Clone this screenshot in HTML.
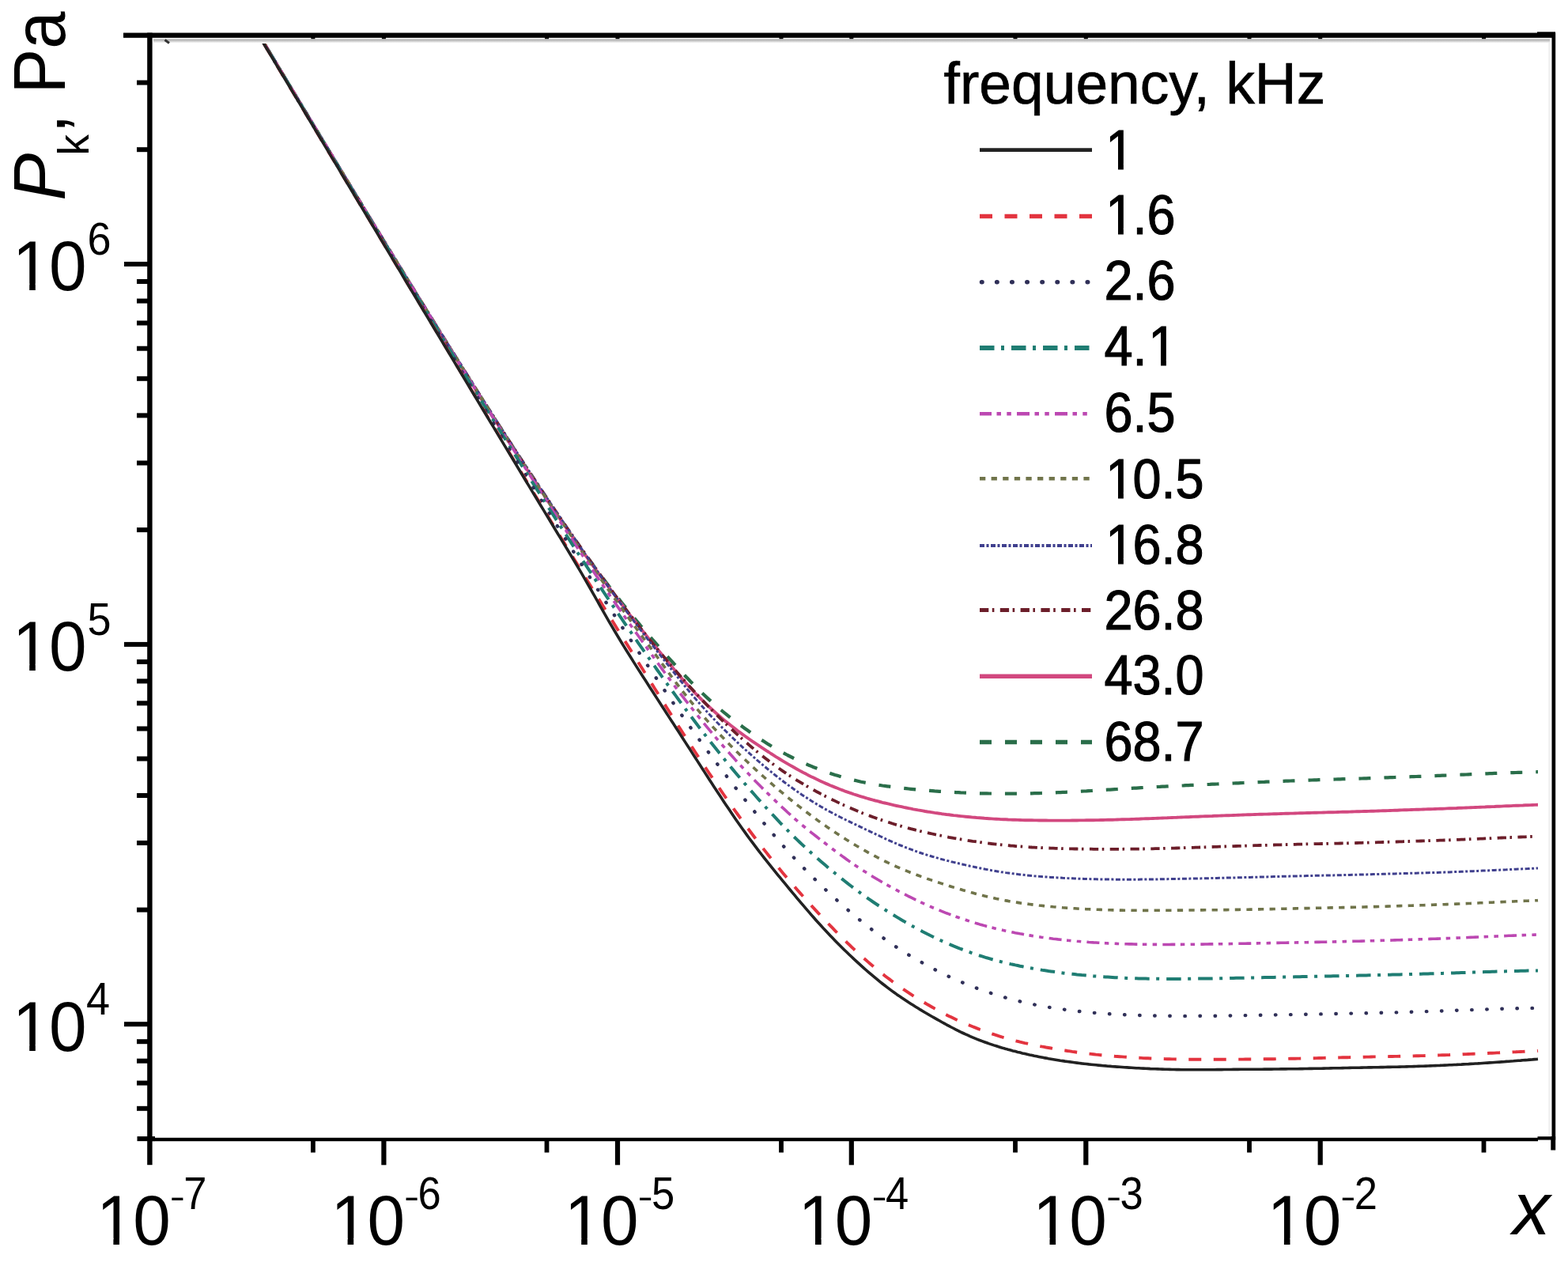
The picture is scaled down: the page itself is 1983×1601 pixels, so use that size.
<!DOCTYPE html><html><head><meta charset="utf-8"><title>P_k versus x for several frequencies</title><style>html,body{margin:0;padding:0;background:#fff;overflow:hidden}svg{display:block}</style></head><body>
<svg width="1983" height="1601" viewBox="0 0 1983 1601" style="font-family:'Liberation Sans',Arial,Helvetica,sans-serif">
<rect width="1983" height="1601" fill="#fff"/>
<defs><clipPath id="pc"><rect x="192.5" y="55" width="1768" height="1383"/></clipPath></defs>
<g clip-path="url(#pc)" fill="none" stroke-linejoin="round">
<polyline points="318.0,28.4 321.0,33.4 324.0,38.3 327.0,43.3 330.0,48.3 333.0,53.3 336.0,58.3 339.0,63.3 342.0,68.3 345.0,73.3 348.0,78.3 351.0,83.3 354.0,88.3 357.0,93.2 360.0,98.2 363.0,103.2 366.0,108.2 369.0,113.2 372.0,118.2 375.0,123.2 378.0,128.1 381.0,133.1 384.0,138.1 387.0,143.1 390.0,148.0 393.0,153.0 396.0,158.0 399.0,163.0 402.0,167.9 405.0,172.9 408.0,177.9 411.0,182.8 414.0,187.8 417.0,192.8 420.0,197.7 423.0,202.7 426.0,207.7 429.0,212.6 432.0,217.6 435.0,222.5 438.0,227.5 441.0,232.4 444.0,237.4 447.0,242.3 450.0,247.3 453.0,252.2 456.0,257.2 459.0,262.1 462.0,267.1 465.0,272.0 468.0,276.9 471.0,281.9 474.0,286.8 477.0,291.7 480.0,296.6 483.0,301.6 486.0,306.5 489.0,311.4 492.0,316.3 495.0,321.2 498.0,326.1 501.0,331.0 504.0,335.9 507.0,340.8 510.0,345.7 513.0,350.6 516.0,355.5 519.0,360.4 522.0,365.3 525.0,370.2 528.0,375.0 531.0,379.9 534.0,384.8 537.0,389.6 540.0,394.5 543.0,399.4 546.0,404.2 549.0,409.1 552.0,413.9 555.0,418.7 558.0,423.6 561.0,428.4 564.0,433.2 567.0,438.0 570.0,442.8 573.0,447.7 576.0,452.5 579.0,457.2 582.0,462.0 585.0,466.8 588.0,471.6 591.0,476.4 594.0,481.1 597.0,485.9 600.0,490.6 603.0,495.4 606.0,500.1 609.0,504.8 612.0,509.6 615.0,514.3 618.0,519.0 621.0,523.7 624.0,528.4 627.0,533.1 630.0,537.7 633.0,542.4 636.0,547.0 639.0,551.7 642.0,556.3 645.0,561.0 648.0,565.6 651.0,570.2 654.0,574.8 657.0,579.4 660.0,583.9 663.0,588.5 666.0,593.0 669.0,597.6 672.0,602.1 675.0,606.6 678.0,611.1 681.0,615.6 684.0,620.1 687.0,624.6 690.0,629.0 693.0,633.4 696.0,637.9 699.0,642.3 702.0,646.6 705.0,651.0 708.0,655.4 711.0,659.7 714.0,664.0 717.0,668.3 720.0,672.6 723.0,676.8 726.0,681.1 729.0,685.3 732.0,689.5 735.0,693.7 738.0,697.9 741.0,702.0 744.0,706.2 747.0,710.3 750.0,714.4 753.0,718.5 756.0,722.5 759.0,726.6 762.0,730.6 765.0,734.6 768.0,738.5 771.0,742.5 774.0,746.4 777.0,750.2 780.0,754.1 783.0,757.9 786.0,761.7 789.0,765.5 792.0,769.2 795.0,772.9 798.0,776.6 801.0,780.2 804.0,783.8 807.0,787.4 810.0,791.0 813.0,794.5 816.0,798.0 819.0,801.5 822.0,805.0 825.0,808.5 828.0,811.9 831.0,815.4 834.0,818.8 837.0,822.2 840.0,825.6 843.0,829.0 846.0,832.3 849.0,835.7 852.0,839.0 855.0,842.3 858.0,845.6 861.0,848.8 864.0,852.0 867.0,855.2 870.0,858.3 873.0,861.5 876.0,864.5 879.0,867.6 882.0,870.6 885.0,873.5 888.0,876.4 891.0,879.3 894.0,882.1 897.0,884.9 900.0,887.6 903.0,890.3 906.0,892.9 909.0,895.5 912.0,898.0 915.0,900.5 918.0,902.9 921.0,905.3 924.0,907.7 927.0,910.0 930.0,912.3 933.0,914.6 936.0,916.8 939.0,919.0 942.0,921.2 945.0,923.3 948.0,925.5 951.0,927.6 954.0,929.7 957.0,931.7 960.0,933.7 963.0,935.7 966.0,937.6 969.0,939.5 972.0,941.4 975.0,943.2 978.0,945.0 981.0,946.8 984.0,948.5 987.0,950.2 990.0,951.8 993.0,953.4 996.0,955.0 999.0,956.5 1002.0,958.0 1005.0,959.5 1008.0,960.9 1011.0,962.3 1014.0,963.7 1017.0,965.1 1020.0,966.4 1023.0,967.7 1026.0,968.9 1029.0,970.2 1032.0,971.3 1035.0,972.5 1038.0,973.7 1041.0,974.8 1044.0,975.9 1047.0,976.9 1050.0,977.9 1053.0,978.9 1056.0,979.9 1059.0,980.8 1062.0,981.7 1065.0,982.6 1068.0,983.5 1071.0,984.3 1074.0,985.1 1077.0,985.9 1080.0,986.6 1083.0,987.3 1086.0,988.0 1089.0,988.7 1092.0,989.3 1095.0,989.9 1098.0,990.5 1101.0,991.0 1104.0,991.6 1107.0,992.1 1110.0,992.6 1113.0,993.0 1116.0,993.5 1119.0,993.9 1122.0,994.3 1125.0,994.7 1128.0,995.1 1131.0,995.5 1134.0,995.9 1137.0,996.2 1140.0,996.6 1143.0,996.9 1146.0,997.2 1149.0,997.5 1152.0,997.8 1155.0,998.1 1158.0,998.4 1161.0,998.7 1164.0,999.0 1167.0,999.2 1170.0,999.5 1173.0,999.7 1176.0,999.9 1179.0,1000.1 1182.0,1000.4 1185.0,1000.6 1188.0,1000.8 1191.0,1001.0 1194.0,1001.2 1197.0,1001.4 1200.0,1001.6 1203.0,1001.7 1206.0,1001.9 1209.0,1002.1 1212.0,1002.2 1215.0,1002.4 1218.0,1002.5 1221.0,1002.6 1224.0,1002.8 1227.0,1002.9 1230.0,1003.0 1233.0,1003.1 1236.0,1003.2 1239.0,1003.3 1242.0,1003.3 1245.0,1003.4 1248.0,1003.4 1251.0,1003.5 1254.0,1003.5 1257.0,1003.6 1260.0,1003.6 1263.0,1003.6 1266.0,1003.7 1269.0,1003.7 1272.0,1003.7 1275.0,1003.7 1278.0,1003.7 1281.0,1003.6 1284.0,1003.6 1287.0,1003.6 1290.0,1003.6 1293.0,1003.5 1296.0,1003.5 1299.0,1003.4 1302.0,1003.4 1305.0,1003.3 1308.0,1003.2 1311.0,1003.2 1314.0,1003.1 1317.0,1003.0 1320.0,1002.9 1323.0,1002.8 1326.0,1002.7 1329.0,1002.6 1332.0,1002.5 1335.0,1002.3 1338.0,1002.2 1341.0,1002.1 1344.0,1001.9 1347.0,1001.8 1350.0,1001.7 1353.0,1001.5 1356.0,1001.3 1359.0,1001.2 1362.0,1001.0 1365.0,1000.9 1368.0,1000.7 1371.0,1000.5 1374.0,1000.4 1377.0,1000.2 1380.0,1000.0 1383.0,999.8 1386.0,999.7 1389.0,999.5 1392.0,999.3 1395.0,999.1 1398.0,998.9 1401.0,998.7 1404.0,998.6 1407.0,998.4 1410.0,998.2 1413.0,998.0 1416.0,997.8 1419.0,997.6 1422.0,997.5 1425.0,997.3 1428.0,997.1 1431.0,996.9 1434.0,996.7 1437.0,996.6 1440.0,996.4 1443.0,996.2 1446.0,996.0 1449.0,995.9 1452.0,995.7 1455.0,995.5 1458.0,995.4 1461.0,995.2 1464.0,995.0 1467.0,994.9 1470.0,994.7 1473.0,994.6 1476.0,994.4 1479.0,994.2 1482.0,994.1 1485.0,993.9 1488.0,993.8 1491.0,993.6 1494.0,993.5 1497.0,993.4 1500.0,993.2 1503.0,993.1 1506.0,992.9 1509.0,992.8 1512.0,992.7 1515.0,992.5 1518.0,992.4 1521.0,992.3 1524.0,992.1 1527.0,992.0 1530.0,991.9 1533.0,991.7 1536.0,991.6 1539.0,991.5 1542.0,991.3 1545.0,991.2 1548.0,991.1 1551.0,990.9 1554.0,990.8 1557.0,990.7 1560.0,990.5 1563.0,990.4 1566.0,990.3 1569.0,990.1 1572.0,990.0 1575.0,989.9 1578.0,989.8 1581.0,989.6 1584.0,989.5 1587.0,989.4 1590.0,989.2 1593.0,989.1 1596.0,989.0 1599.0,988.9 1602.0,988.7 1605.0,988.6 1608.0,988.5 1611.0,988.3 1614.0,988.2 1617.0,988.1 1620.0,988.0 1623.0,987.9 1626.0,987.7 1629.0,987.6 1632.0,987.5 1635.0,987.4 1638.0,987.3 1641.0,987.1 1644.0,987.0 1647.0,986.9 1650.0,986.8 1653.0,986.7 1656.0,986.6 1659.0,986.5 1662.0,986.4 1665.0,986.3 1668.0,986.2 1671.0,986.1 1674.0,986.0 1677.0,985.9 1680.0,985.8 1683.0,985.7 1686.0,985.6 1689.0,985.5 1692.0,985.4 1695.0,985.3 1698.0,985.2 1701.0,985.2 1704.0,985.1 1707.0,985.0 1710.0,984.9 1713.0,984.8 1716.0,984.7 1719.0,984.6 1722.0,984.5 1725.0,984.4 1728.0,984.3 1731.0,984.2 1734.0,984.1 1737.0,984.0 1740.0,983.9 1743.0,983.8 1746.0,983.7 1749.0,983.6 1752.0,983.4 1755.0,983.3 1758.0,983.2 1761.0,983.1 1764.0,983.0 1767.0,982.9 1770.0,982.8 1773.0,982.7 1776.0,982.6 1779.0,982.5 1782.0,982.3 1785.0,982.2 1788.0,982.1 1791.0,982.0 1794.0,981.9 1797.0,981.8 1800.0,981.7 1803.0,981.5 1806.0,981.4 1809.0,981.3 1812.0,981.2 1815.0,981.1 1818.0,980.9 1821.0,980.8 1824.0,980.7 1827.0,980.6 1830.0,980.5 1833.0,980.3 1836.0,980.2 1839.0,980.1 1842.0,980.0 1845.0,979.8 1848.0,979.7 1851.0,979.6 1854.0,979.5 1857.0,979.3 1860.0,979.2 1863.0,979.1 1866.0,978.9 1869.0,978.8 1872.0,978.7 1875.0,978.6 1878.0,978.4 1881.0,978.3 1884.0,978.2 1887.0,978.1 1890.0,977.9 1893.0,977.8 1896.0,977.7 1899.0,977.6 1902.0,977.5 1905.0,977.4 1908.0,977.3 1911.0,977.2 1914.0,977.1 1917.0,977.0 1920.0,976.9 1923.0,976.8 1926.0,976.7 1929.0,976.6 1932.0,976.5 1935.0,976.5 1938.0,976.4 1941.0,976.3 1944.0,976.2 1945.0,976.2" stroke="#2a6e4a" stroke-width="4.2" stroke-dasharray="15 17"/>
<polyline points="318.0,28.2 321.0,33.2 324.0,38.2 327.0,43.2 330.0,48.2 333.0,53.2 336.0,58.2 339.0,63.2 342.0,68.1 345.0,73.1 348.0,78.1 351.0,83.1 354.0,88.1 357.0,93.1 360.0,98.1 363.0,103.0 366.0,108.0 369.0,113.0 372.0,118.0 375.0,123.0 378.0,127.9 381.0,132.9 384.0,137.9 387.0,142.9 390.0,147.8 393.0,152.8 396.0,157.8 399.0,162.8 402.0,167.7 405.0,172.7 408.0,177.7 411.0,182.6 414.0,187.6 417.0,192.6 420.0,197.5 423.0,202.5 426.0,207.4 429.0,212.4 432.0,217.3 435.0,222.3 438.0,227.2 441.0,232.2 444.0,237.1 447.0,242.1 450.0,247.0 453.0,252.0 456.0,256.9 459.0,261.8 462.0,266.8 465.0,271.7 468.0,276.6 471.0,281.6 474.0,286.5 477.0,291.4 480.0,296.4 483.0,301.3 486.0,306.2 489.0,311.1 492.0,316.0 495.0,320.9 498.0,325.8 501.0,330.7 504.0,335.6 507.0,340.5 510.0,345.4 513.0,350.3 516.0,355.2 519.0,360.1 522.0,365.0 525.0,369.8 528.0,374.7 531.0,379.6 534.0,384.5 537.0,389.3 540.0,394.2 543.0,399.0 546.0,403.9 549.0,408.7 552.0,413.6 555.0,418.4 558.0,423.2 561.0,428.1 564.0,432.9 567.0,437.7 570.0,442.5 573.0,447.3 576.0,452.1 579.0,456.9 582.0,461.7 585.0,466.5 588.0,471.3 591.0,476.1 594.0,480.8 597.0,485.6 600.0,490.3 603.0,495.1 606.0,499.8 609.0,504.6 612.0,509.3 615.0,514.0 618.0,518.7 621.0,523.4 624.0,528.1 627.0,532.8 630.0,537.5 633.0,542.2 636.0,546.8 639.0,551.5 642.0,556.1 645.0,560.8 648.0,565.4 651.0,570.0 654.0,574.6 657.0,579.2 660.0,583.8 663.0,588.4 666.0,593.0 669.0,597.5 672.0,602.1 675.0,606.6 678.0,611.1 681.0,615.6 684.0,620.1 687.0,624.6 690.0,629.1 693.0,633.6 696.0,638.0 699.0,642.5 702.0,646.9 705.0,651.3 708.0,655.7 711.0,660.1 714.0,664.4 717.0,668.8 720.0,673.1 723.0,677.4 726.0,681.7 729.0,686.0 732.0,690.3 735.0,694.6 738.0,698.8 741.0,703.0 744.0,707.2 747.0,711.4 750.0,715.6 753.0,719.7 756.0,723.8 759.0,727.9 762.0,732.0 765.0,736.1 768.0,740.1 771.0,744.2 774.0,748.2 777.0,752.2 780.0,756.1 783.0,760.1 786.0,764.0 789.0,767.9 792.0,771.8 795.0,775.6 798.0,779.5 801.0,783.3 804.0,787.0 807.0,790.8 810.0,794.6 813.0,798.3 816.0,802.0 819.0,805.7 822.0,809.4 825.0,813.0 828.0,816.7 831.0,820.4 834.0,824.0 837.0,827.7 840.0,831.3 843.0,835.0 846.0,838.6 849.0,842.3 852.0,845.9 855.0,849.4 858.0,853.0 861.0,856.5 864.0,859.9 867.0,863.3 870.0,866.6 873.0,869.9 876.0,873.1 879.0,876.3 882.0,879.3 885.0,882.4 888.0,885.4 891.0,888.3 894.0,891.2 897.0,894.0 900.0,896.8 903.0,899.5 906.0,902.2 909.0,904.8 912.0,907.4 915.0,909.9 918.0,912.4 921.0,914.8 924.0,917.2 927.0,919.6 930.0,921.9 933.0,924.2 936.0,926.4 939.0,928.6 942.0,930.8 945.0,932.9 948.0,935.0 951.0,937.1 954.0,939.1 957.0,941.2 960.0,943.2 963.0,945.2 966.0,947.1 969.0,949.1 972.0,951.0 975.0,953.0 978.0,954.9 981.0,956.8 984.0,958.6 987.0,960.5 990.0,962.3 993.0,964.1 996.0,965.9 999.0,967.6 1002.0,969.3 1005.0,971.0 1008.0,972.7 1011.0,974.4 1014.0,976.0 1017.0,977.6 1020.0,979.1 1023.0,980.7 1026.0,982.2 1029.0,983.6 1032.0,985.1 1035.0,986.5 1038.0,987.9 1041.0,989.3 1044.0,990.6 1047.0,991.9 1050.0,993.2 1053.0,994.4 1056.0,995.6 1059.0,996.8 1062.0,998.0 1065.0,999.1 1068.0,1000.3 1071.0,1001.3 1074.0,1002.4 1077.0,1003.4 1080.0,1004.5 1083.0,1005.4 1086.0,1006.4 1089.0,1007.3 1092.0,1008.2 1095.0,1009.1 1098.0,1010.0 1101.0,1010.8 1104.0,1011.7 1107.0,1012.5 1110.0,1013.2 1113.0,1014.0 1116.0,1014.8 1119.0,1015.5 1122.0,1016.2 1125.0,1016.9 1128.0,1017.6 1131.0,1018.3 1134.0,1019.0 1137.0,1019.6 1140.0,1020.2 1143.0,1020.9 1146.0,1021.5 1149.0,1022.1 1152.0,1022.7 1155.0,1023.3 1158.0,1023.8 1161.0,1024.4 1164.0,1024.9 1167.0,1025.4 1170.0,1026.0 1173.0,1026.5 1176.0,1026.9 1179.0,1027.4 1182.0,1027.9 1185.0,1028.3 1188.0,1028.7 1191.0,1029.2 1194.0,1029.6 1197.0,1030.0 1200.0,1030.3 1203.0,1030.7 1206.0,1031.1 1209.0,1031.4 1212.0,1031.8 1215.0,1032.1 1218.0,1032.4 1221.0,1032.7 1224.0,1033.0 1227.0,1033.3 1230.0,1033.6 1233.0,1033.8 1236.0,1034.1 1239.0,1034.3 1242.0,1034.5 1245.0,1034.8 1248.0,1035.0 1251.0,1035.2 1254.0,1035.4 1257.0,1035.6 1260.0,1035.7 1263.0,1035.9 1266.0,1036.1 1269.0,1036.2 1272.0,1036.3 1275.0,1036.5 1278.0,1036.6 1281.0,1036.7 1284.0,1036.8 1287.0,1036.9 1290.0,1037.0 1293.0,1037.1 1296.0,1037.2 1299.0,1037.2 1302.0,1037.3 1305.0,1037.3 1308.0,1037.4 1311.0,1037.4 1314.0,1037.5 1317.0,1037.5 1320.0,1037.5 1323.0,1037.5 1326.0,1037.6 1329.0,1037.6 1332.0,1037.6 1335.0,1037.6 1338.0,1037.6 1341.0,1037.6 1344.0,1037.6 1347.0,1037.6 1350.0,1037.6 1353.0,1037.6 1356.0,1037.5 1359.0,1037.5 1362.0,1037.5 1365.0,1037.4 1368.0,1037.4 1371.0,1037.4 1374.0,1037.3 1377.0,1037.3 1380.0,1037.2 1383.0,1037.2 1386.0,1037.1 1389.0,1037.1 1392.0,1037.0 1395.0,1037.0 1398.0,1036.9 1401.0,1036.8 1404.0,1036.7 1407.0,1036.7 1410.0,1036.6 1413.0,1036.5 1416.0,1036.4 1419.0,1036.3 1422.0,1036.2 1425.0,1036.1 1428.0,1036.1 1431.0,1036.0 1434.0,1035.9 1437.0,1035.8 1440.0,1035.7 1443.0,1035.5 1446.0,1035.4 1449.0,1035.3 1452.0,1035.2 1455.0,1035.1 1458.0,1035.0 1461.0,1034.9 1464.0,1034.7 1467.0,1034.6 1470.0,1034.5 1473.0,1034.4 1476.0,1034.3 1479.0,1034.1 1482.0,1034.0 1485.0,1033.9 1488.0,1033.8 1491.0,1033.6 1494.0,1033.5 1497.0,1033.4 1500.0,1033.3 1503.0,1033.2 1506.0,1033.0 1509.0,1032.9 1512.0,1032.8 1515.0,1032.7 1518.0,1032.5 1521.0,1032.4 1524.0,1032.3 1527.0,1032.2 1530.0,1032.1 1533.0,1032.0 1536.0,1031.8 1539.0,1031.7 1542.0,1031.6 1545.0,1031.5 1548.0,1031.4 1551.0,1031.3 1554.0,1031.2 1557.0,1031.1 1560.0,1031.0 1563.0,1030.9 1566.0,1030.7 1569.0,1030.6 1572.0,1030.5 1575.0,1030.4 1578.0,1030.3 1581.0,1030.2 1584.0,1030.1 1587.0,1030.0 1590.0,1029.9 1593.0,1029.8 1596.0,1029.7 1599.0,1029.6 1602.0,1029.6 1605.0,1029.5 1608.0,1029.4 1611.0,1029.3 1614.0,1029.2 1617.0,1029.1 1620.0,1029.0 1623.0,1028.9 1626.0,1028.8 1629.0,1028.7 1632.0,1028.6 1635.0,1028.6 1638.0,1028.5 1641.0,1028.4 1644.0,1028.3 1647.0,1028.2 1650.0,1028.1 1653.0,1028.0 1656.0,1028.0 1659.0,1027.9 1662.0,1027.8 1665.0,1027.7 1668.0,1027.6 1671.0,1027.6 1674.0,1027.5 1677.0,1027.4 1680.0,1027.3 1683.0,1027.3 1686.0,1027.2 1689.0,1027.1 1692.0,1027.0 1695.0,1026.9 1698.0,1026.8 1701.0,1026.8 1704.0,1026.7 1707.0,1026.6 1710.0,1026.5 1713.0,1026.4 1716.0,1026.3 1719.0,1026.2 1722.0,1026.1 1725.0,1026.0 1728.0,1026.0 1731.0,1025.9 1734.0,1025.8 1737.0,1025.7 1740.0,1025.6 1743.0,1025.5 1746.0,1025.4 1749.0,1025.3 1752.0,1025.2 1755.0,1025.1 1758.0,1025.0 1761.0,1024.9 1764.0,1024.8 1767.0,1024.7 1770.0,1024.5 1773.0,1024.4 1776.0,1024.3 1779.0,1024.2 1782.0,1024.1 1785.0,1024.0 1788.0,1023.9 1791.0,1023.8 1794.0,1023.7 1797.0,1023.6 1800.0,1023.5 1803.0,1023.4 1806.0,1023.3 1809.0,1023.2 1812.0,1023.1 1815.0,1023.0 1818.0,1022.9 1821.0,1022.8 1824.0,1022.7 1827.0,1022.6 1830.0,1022.4 1833.0,1022.3 1836.0,1022.2 1839.0,1022.1 1842.0,1022.0 1845.0,1021.8 1848.0,1021.7 1851.0,1021.6 1854.0,1021.5 1857.0,1021.4 1860.0,1021.2 1863.0,1021.1 1866.0,1021.0 1869.0,1020.9 1872.0,1020.7 1875.0,1020.6 1878.0,1020.5 1881.0,1020.3 1884.0,1020.2 1887.0,1020.1 1890.0,1020.0 1893.0,1019.8 1896.0,1019.7 1899.0,1019.6 1902.0,1019.4 1905.0,1019.3 1908.0,1019.2 1911.0,1019.1 1914.0,1018.9 1917.0,1018.8 1920.0,1018.7 1923.0,1018.6 1926.0,1018.5 1929.0,1018.3 1932.0,1018.2 1935.0,1018.1 1938.0,1018.0 1941.0,1017.9 1944.0,1017.7 1945.0,1017.7" stroke="#d2487f" stroke-width="3.9"/>
<polyline points="318.0,27.9 321.0,32.8 324.0,37.8 327.0,42.8 330.0,47.8 333.0,52.8 336.0,57.8 339.0,62.7 342.0,67.7 345.0,72.7 348.0,77.7 351.0,82.7 354.0,87.6 357.0,92.6 360.0,97.6 363.0,102.6 366.0,107.5 369.0,112.5 372.0,117.5 375.0,122.4 378.0,127.4 381.0,132.4 384.0,137.4 387.0,142.3 390.0,147.3 393.0,152.2 396.0,157.2 399.0,162.2 402.0,167.1 405.0,172.1 408.0,177.0 411.0,182.0 414.0,186.9 417.0,191.9 420.0,196.8 423.0,201.8 426.0,206.7 429.0,211.7 432.0,216.6 435.0,221.6 438.0,226.5 441.0,231.4 444.0,236.4 447.0,241.3 450.0,246.2 453.0,251.2 456.0,256.1 459.0,261.0 462.0,265.9 465.0,270.9 468.0,275.8 471.0,280.7 474.0,285.6 477.0,290.5 480.0,295.4 483.0,300.3 486.0,305.2 489.0,310.1 492.0,315.0 495.0,319.9 498.0,324.8 501.0,329.7 504.0,334.6 507.0,339.5 510.0,344.4 513.0,349.2 516.0,354.1 519.0,359.0 522.0,363.8 525.0,368.7 528.0,373.6 531.0,378.4 534.0,383.3 537.0,388.1 540.0,393.0 543.0,397.8 546.0,402.6 549.0,407.5 552.0,412.3 555.0,417.1 558.0,421.9 561.0,426.7 564.0,431.5 567.0,436.4 570.0,441.1 573.0,445.9 576.0,450.7 579.0,455.5 582.0,460.3 585.0,465.1 588.0,469.8 591.0,474.6 594.0,479.3 597.0,484.1 600.0,488.8 603.0,493.6 606.0,498.3 609.0,503.0 612.0,507.7 615.0,512.4 618.0,517.1 621.0,521.8 624.0,526.5 627.0,531.2 630.0,535.9 633.0,540.5 636.0,545.2 639.0,549.8 642.0,554.5 645.0,559.1 648.0,563.7 651.0,568.3 654.0,572.9 657.0,577.5 660.0,582.1 663.0,586.7 666.0,591.3 669.0,595.8 672.0,600.4 675.0,604.9 678.0,609.4 681.0,613.9 684.0,618.4 687.0,622.9 690.0,627.4 693.0,631.9 696.0,636.3 699.0,640.8 702.0,645.2 705.0,649.6 708.0,654.0 711.0,658.4 714.0,662.8 717.0,667.2 720.0,671.5 723.0,675.9 726.0,680.2 729.0,684.5 732.0,688.8 735.0,693.1 738.0,697.3 741.0,701.6 744.0,705.8 747.0,710.0 750.0,714.2 753.0,718.4 756.0,722.6 759.0,726.7 762.0,730.9 765.0,735.0 768.0,739.1 771.0,743.2 774.0,747.2 777.0,751.3 780.0,755.3 783.0,759.3 786.0,763.3 789.0,767.2 792.0,771.2 795.0,775.1 798.0,779.0 801.0,782.9 804.0,786.7 807.0,790.6 810.0,794.4 813.0,798.2 816.0,802.0 819.0,805.7 822.0,809.4 825.0,813.1 828.0,816.8 831.0,820.5 834.0,824.1 837.0,827.7 840.0,831.3 843.0,834.8 846.0,838.4 849.0,841.9 852.0,845.4 855.0,848.8 858.0,852.3 861.0,855.7 864.0,859.0 867.0,862.4 870.0,865.7 873.0,869.1 876.0,872.3 879.0,875.6 882.0,878.8 885.0,882.0 888.0,885.2 891.0,888.4 894.0,891.5 897.0,894.6 900.0,897.6 903.0,900.7 906.0,903.7 909.0,906.7 912.0,909.6 915.0,912.5 918.0,915.4 921.0,918.3 924.0,921.1 927.0,923.9 930.0,926.7 933.0,929.4 936.0,932.1 939.0,934.8 942.0,937.4 945.0,940.0 948.0,942.6 951.0,945.2 954.0,947.7 957.0,950.2 960.0,952.6 963.0,955.0 966.0,957.4 969.0,959.7 972.0,962.1 975.0,964.3 978.0,966.6 981.0,968.8 984.0,970.9 987.0,973.0 990.0,975.1 993.0,977.1 996.0,979.2 999.0,981.1 1002.0,983.1 1005.0,985.0 1008.0,986.8 1011.0,988.6 1014.0,990.4 1017.0,992.2 1020.0,994.0 1023.0,995.7 1026.0,997.4 1029.0,999.0 1032.0,1000.7 1035.0,1002.3 1038.0,1003.9 1041.0,1005.4 1044.0,1007.0 1047.0,1008.5 1050.0,1010.0 1053.0,1011.5 1056.0,1012.9 1059.0,1014.4 1062.0,1015.8 1065.0,1017.2 1068.0,1018.6 1071.0,1019.9 1074.0,1021.2 1077.0,1022.5 1080.0,1023.8 1083.0,1025.1 1086.0,1026.3 1089.0,1027.5 1092.0,1028.7 1095.0,1029.9 1098.0,1031.0 1101.0,1032.1 1104.0,1033.2 1107.0,1034.3 1110.0,1035.4 1113.0,1036.4 1116.0,1037.4 1119.0,1038.4 1122.0,1039.4 1125.0,1040.3 1128.0,1041.3 1131.0,1042.2 1134.0,1043.1 1137.0,1044.0 1140.0,1044.8 1143.0,1045.7 1146.0,1046.5 1149.0,1047.3 1152.0,1048.1 1155.0,1048.8 1158.0,1049.6 1161.0,1050.3 1164.0,1051.1 1167.0,1051.8 1170.0,1052.5 1173.0,1053.2 1176.0,1053.8 1179.0,1054.5 1182.0,1055.2 1185.0,1055.8 1188.0,1056.4 1191.0,1057.0 1194.0,1057.6 1197.0,1058.2 1200.0,1058.8 1203.0,1059.3 1206.0,1059.9 1209.0,1060.4 1212.0,1060.9 1215.0,1061.4 1218.0,1061.9 1221.0,1062.4 1224.0,1062.9 1227.0,1063.3 1230.0,1063.8 1233.0,1064.2 1236.0,1064.6 1239.0,1065.1 1242.0,1065.5 1245.0,1065.9 1248.0,1066.2 1251.0,1066.6 1254.0,1067.0 1257.0,1067.3 1260.0,1067.7 1263.0,1068.0 1266.0,1068.3 1269.0,1068.6 1272.0,1068.9 1275.0,1069.2 1278.0,1069.5 1281.0,1069.7 1284.0,1070.0 1287.0,1070.2 1290.0,1070.4 1293.0,1070.7 1296.0,1070.9 1299.0,1071.1 1302.0,1071.3 1305.0,1071.5 1308.0,1071.6 1311.0,1071.8 1314.0,1072.0 1317.0,1072.1 1320.0,1072.3 1323.0,1072.4 1326.0,1072.5 1329.0,1072.6 1332.0,1072.7 1335.0,1072.8 1338.0,1072.9 1341.0,1073.0 1344.0,1073.1 1347.0,1073.2 1350.0,1073.3 1353.0,1073.3 1356.0,1073.4 1359.0,1073.5 1362.0,1073.5 1365.0,1073.6 1368.0,1073.6 1371.0,1073.6 1374.0,1073.7 1377.0,1073.7 1380.0,1073.7 1383.0,1073.8 1386.0,1073.8 1389.0,1073.8 1392.0,1073.8 1395.0,1073.8 1398.0,1073.8 1401.0,1073.8 1404.0,1073.8 1407.0,1073.8 1410.0,1073.8 1413.0,1073.8 1416.0,1073.8 1419.0,1073.8 1422.0,1073.7 1425.0,1073.7 1428.0,1073.7 1431.0,1073.7 1434.0,1073.6 1437.0,1073.6 1440.0,1073.6 1443.0,1073.5 1446.0,1073.5 1449.0,1073.4 1452.0,1073.4 1455.0,1073.3 1458.0,1073.3 1461.0,1073.2 1464.0,1073.1 1467.0,1073.1 1470.0,1073.0 1473.0,1072.9 1476.0,1072.8 1479.0,1072.8 1482.0,1072.7 1485.0,1072.6 1488.0,1072.5 1491.0,1072.4 1494.0,1072.3 1497.0,1072.2 1500.0,1072.1 1503.0,1072.0 1506.0,1071.9 1509.0,1071.8 1512.0,1071.7 1515.0,1071.6 1518.0,1071.5 1521.0,1071.4 1524.0,1071.3 1527.0,1071.2 1530.0,1071.1 1533.0,1071.0 1536.0,1070.9 1539.0,1070.8 1542.0,1070.7 1545.0,1070.6 1548.0,1070.5 1551.0,1070.4 1554.0,1070.3 1557.0,1070.2 1560.0,1070.1 1563.0,1070.0 1566.0,1069.9 1569.0,1069.8 1572.0,1069.7 1575.0,1069.6 1578.0,1069.5 1581.0,1069.4 1584.0,1069.3 1587.0,1069.2 1590.0,1069.1 1593.0,1069.0 1596.0,1068.9 1599.0,1068.9 1602.0,1068.8 1605.0,1068.7 1608.0,1068.6 1611.0,1068.5 1614.0,1068.4 1617.0,1068.4 1620.0,1068.3 1623.0,1068.2 1626.0,1068.1 1629.0,1068.0 1632.0,1068.0 1635.0,1067.9 1638.0,1067.8 1641.0,1067.7 1644.0,1067.7 1647.0,1067.6 1650.0,1067.5 1653.0,1067.4 1656.0,1067.4 1659.0,1067.3 1662.0,1067.2 1665.0,1067.2 1668.0,1067.1 1671.0,1067.0 1674.0,1067.0 1677.0,1066.9 1680.0,1066.8 1683.0,1066.8 1686.0,1066.7 1689.0,1066.6 1692.0,1066.6 1695.0,1066.5 1698.0,1066.4 1701.0,1066.4 1704.0,1066.3 1707.0,1066.2 1710.0,1066.1 1713.0,1066.1 1716.0,1066.0 1719.0,1065.9 1722.0,1065.8 1725.0,1065.7 1728.0,1065.6 1731.0,1065.6 1734.0,1065.5 1737.0,1065.4 1740.0,1065.3 1743.0,1065.2 1746.0,1065.1 1749.0,1065.0 1752.0,1064.9 1755.0,1064.8 1758.0,1064.7 1761.0,1064.6 1764.0,1064.6 1767.0,1064.5 1770.0,1064.4 1773.0,1064.3 1776.0,1064.2 1779.0,1064.1 1782.0,1064.0 1785.0,1063.9 1788.0,1063.8 1791.0,1063.7 1794.0,1063.6 1797.0,1063.5 1800.0,1063.4 1803.0,1063.3 1806.0,1063.2 1809.0,1063.1 1812.0,1063.0 1815.0,1062.9 1818.0,1062.8 1821.0,1062.7 1824.0,1062.6 1827.0,1062.5 1830.0,1062.4 1833.0,1062.3 1836.0,1062.2 1839.0,1062.0 1842.0,1061.9 1845.0,1061.8 1848.0,1061.7 1851.0,1061.6 1854.0,1061.4 1857.0,1061.3 1860.0,1061.2 1863.0,1061.1 1866.0,1060.9 1869.0,1060.8 1872.0,1060.7 1875.0,1060.6 1878.0,1060.4 1881.0,1060.3 1884.0,1060.2 1887.0,1060.0 1890.0,1059.9 1893.0,1059.8 1896.0,1059.6 1899.0,1059.5 1902.0,1059.4 1905.0,1059.3 1908.0,1059.1 1911.0,1059.0 1914.0,1058.9 1917.0,1058.7 1920.0,1058.6 1923.0,1058.5 1926.0,1058.4 1929.0,1058.3 1932.0,1058.1 1935.0,1058.0 1938.0,1057.9 1941.0,1057.8 1944.0,1057.6 1945.0,1057.6" stroke="#6c1e2a" stroke-width="3.8" stroke-dasharray="11.3 4.5 2.6 7.4"/>
<polyline points="318.0,27.6 321.0,32.6 324.0,37.6 327.0,42.5 330.0,47.5 333.0,52.5 336.0,57.5 339.0,62.4 342.0,67.4 345.0,72.4 348.0,77.4 351.0,82.3 354.0,87.3 357.0,92.3 360.0,97.3 363.0,102.2 366.0,107.2 369.0,112.2 372.0,117.1 375.0,122.1 378.0,127.1 381.0,132.0 384.0,137.0 387.0,141.9 390.0,146.9 393.0,151.9 396.0,156.8 399.0,161.8 402.0,166.7 405.0,171.7 408.0,176.6 411.0,181.6 414.0,186.5 417.0,191.5 420.0,196.4 423.0,201.4 426.0,206.3 429.0,211.2 432.0,216.2 435.0,221.1 438.0,226.0 441.0,231.0 444.0,235.9 447.0,240.8 450.0,245.8 453.0,250.7 456.0,255.6 459.0,260.5 462.0,265.4 465.0,270.4 468.0,275.3 471.0,280.2 474.0,285.1 477.0,290.0 480.0,294.9 483.0,299.8 486.0,304.7 489.0,309.6 492.0,314.5 495.0,319.4 498.0,324.3 501.0,329.1 504.0,334.0 507.0,338.9 510.0,343.8 513.0,348.7 516.0,353.5 519.0,358.4 522.0,363.2 525.0,368.1 528.0,373.0 531.0,377.8 534.0,382.7 537.0,387.5 540.0,392.3 543.0,397.2 546.0,402.0 549.0,406.8 552.0,411.7 555.0,416.5 558.0,421.3 561.0,426.1 564.0,430.9 567.0,435.7 570.0,440.5 573.0,445.3 576.0,450.1 579.0,454.9 582.0,459.6 585.0,464.4 588.0,469.2 591.0,473.9 594.0,478.7 597.0,483.4 600.0,488.2 603.0,492.9 606.0,497.7 609.0,502.4 612.0,507.1 615.0,511.8 618.0,516.5 621.0,521.2 624.0,525.9 627.0,530.6 630.0,535.3 633.0,540.0 636.0,544.6 639.0,549.3 642.0,553.9 645.0,558.6 648.0,563.2 651.0,567.8 654.0,572.4 657.0,577.1 660.0,581.7 663.0,586.2 666.0,590.8 669.0,595.4 672.0,600.0 675.0,604.5 678.0,609.1 681.0,613.6 684.0,618.1 687.0,622.6 690.0,627.1 693.0,631.6 696.0,636.1 699.0,640.6 702.0,645.1 705.0,649.5 708.0,653.9 711.0,658.4 714.0,662.8 717.0,667.2 720.0,671.6 723.0,676.0 726.0,680.3 729.0,684.7 732.0,689.0 735.0,693.3 738.0,697.7 741.0,702.0 744.0,706.2 747.0,710.5 750.0,714.8 753.0,719.0 756.0,723.2 759.0,727.4 762.0,731.6 765.0,735.8 768.0,740.0 771.0,744.1 774.0,748.3 777.0,752.4 780.0,756.5 783.0,760.6 786.0,764.6 789.0,768.7 792.0,772.7 795.0,776.7 798.0,780.7 801.0,784.7 804.0,788.6 807.0,792.6 810.0,796.5 813.0,800.4 816.0,804.3 819.0,808.1 822.0,812.0 825.0,815.8 828.0,819.6 831.0,823.5 834.0,827.3 837.0,831.1 840.0,834.9 843.0,838.7 846.0,842.4 849.0,846.2 852.0,850.0 855.0,853.8 858.0,857.6 861.0,861.3 864.0,865.0 867.0,868.7 870.0,872.4 873.0,876.0 876.0,879.5 879.0,883.1 882.0,886.5 885.0,889.9 888.0,893.3 891.0,896.6 894.0,899.9 897.0,903.2 900.0,906.4 903.0,909.5 906.0,912.7 909.0,915.7 912.0,918.8 915.0,921.8 918.0,924.8 921.0,927.7 924.0,930.6 927.0,933.5 930.0,936.4 933.0,939.2 936.0,942.0 939.0,944.8 942.0,947.5 945.0,950.2 948.0,952.9 951.0,955.6 954.0,958.2 957.0,960.9 960.0,963.4 963.0,966.0 966.0,968.5 969.0,971.0 972.0,973.5 975.0,975.9 978.0,978.4 981.0,980.7 984.0,983.1 987.0,985.4 990.0,987.7 993.0,990.0 996.0,992.2 999.0,994.4 1002.0,996.5 1005.0,998.7 1008.0,1000.8 1011.0,1002.8 1014.0,1004.9 1017.0,1006.9 1020.0,1008.8 1023.0,1010.8 1026.0,1012.7 1029.0,1014.6 1032.0,1016.4 1035.0,1018.2 1038.0,1020.0 1041.0,1021.7 1044.0,1023.4 1047.0,1025.1 1050.0,1026.7 1053.0,1028.3 1056.0,1029.9 1059.0,1031.5 1062.0,1033.0 1065.0,1034.5 1068.0,1036.0 1071.0,1037.5 1074.0,1038.9 1077.0,1040.4 1080.0,1041.8 1083.0,1043.2 1086.0,1044.7 1089.0,1046.1 1092.0,1047.5 1095.0,1049.0 1098.0,1050.4 1101.0,1051.8 1104.0,1053.3 1107.0,1054.7 1110.0,1056.1 1113.0,1057.5 1116.0,1058.9 1119.0,1060.3 1122.0,1061.7 1125.0,1063.1 1128.0,1064.4 1131.0,1065.7 1134.0,1067.0 1137.0,1068.3 1140.0,1069.5 1143.0,1070.7 1146.0,1071.9 1149.0,1073.1 1152.0,1074.2 1155.0,1075.3 1158.0,1076.4 1161.0,1077.5 1164.0,1078.5 1167.0,1079.5 1170.0,1080.5 1173.0,1081.4 1176.0,1082.3 1179.0,1083.2 1182.0,1084.1 1185.0,1084.9 1188.0,1085.8 1191.0,1086.6 1194.0,1087.4 1197.0,1088.1 1200.0,1088.9 1203.0,1089.7 1206.0,1090.4 1209.0,1091.1 1212.0,1091.8 1215.0,1092.5 1218.0,1093.2 1221.0,1093.9 1224.0,1094.6 1227.0,1095.3 1230.0,1095.9 1233.0,1096.5 1236.0,1097.2 1239.0,1097.8 1242.0,1098.4 1245.0,1099.0 1248.0,1099.6 1251.0,1100.1 1254.0,1100.7 1257.0,1101.2 1260.0,1101.7 1263.0,1102.2 1266.0,1102.7 1269.0,1103.1 1272.0,1103.6 1275.0,1104.0 1278.0,1104.4 1281.0,1104.8 1284.0,1105.2 1287.0,1105.6 1290.0,1105.9 1293.0,1106.3 1296.0,1106.6 1299.0,1106.9 1302.0,1107.2 1305.0,1107.5 1308.0,1107.8 1311.0,1108.0 1314.0,1108.3 1317.0,1108.5 1320.0,1108.7 1323.0,1109.0 1326.0,1109.2 1329.0,1109.4 1332.0,1109.6 1335.0,1109.8 1338.0,1109.9 1341.0,1110.1 1344.0,1110.3 1347.0,1110.4 1350.0,1110.6 1353.0,1110.7 1356.0,1110.8 1359.0,1111.0 1362.0,1111.1 1365.0,1111.2 1368.0,1111.3 1371.0,1111.4 1374.0,1111.5 1377.0,1111.6 1380.0,1111.7 1383.0,1111.8 1386.0,1111.8 1389.0,1111.9 1392.0,1111.9 1395.0,1112.0 1398.0,1112.0 1401.0,1112.1 1404.0,1112.1 1407.0,1112.1 1410.0,1112.2 1413.0,1112.2 1416.0,1112.2 1419.0,1112.2 1422.0,1112.2 1425.0,1112.2 1428.0,1112.2 1431.0,1112.2 1434.0,1112.2 1437.0,1112.2 1440.0,1112.2 1443.0,1112.1 1446.0,1112.1 1449.0,1112.1 1452.0,1112.0 1455.0,1112.0 1458.0,1112.0 1461.0,1111.9 1464.0,1111.9 1467.0,1111.8 1470.0,1111.8 1473.0,1111.7 1476.0,1111.7 1479.0,1111.6 1482.0,1111.6 1485.0,1111.5 1488.0,1111.5 1491.0,1111.4 1494.0,1111.3 1497.0,1111.3 1500.0,1111.2 1503.0,1111.2 1506.0,1111.1 1509.0,1111.0 1512.0,1111.0 1515.0,1110.9 1518.0,1110.9 1521.0,1110.8 1524.0,1110.7 1527.0,1110.7 1530.0,1110.6 1533.0,1110.5 1536.0,1110.5 1539.0,1110.4 1542.0,1110.3 1545.0,1110.3 1548.0,1110.2 1551.0,1110.1 1554.0,1110.1 1557.0,1110.0 1560.0,1109.9 1563.0,1109.9 1566.0,1109.8 1569.0,1109.7 1572.0,1109.6 1575.0,1109.6 1578.0,1109.5 1581.0,1109.4 1584.0,1109.3 1587.0,1109.3 1590.0,1109.2 1593.0,1109.1 1596.0,1109.0 1599.0,1109.0 1602.0,1108.9 1605.0,1108.8 1608.0,1108.7 1611.0,1108.6 1614.0,1108.6 1617.0,1108.5 1620.0,1108.4 1623.0,1108.3 1626.0,1108.3 1629.0,1108.2 1632.0,1108.1 1635.0,1108.0 1638.0,1107.9 1641.0,1107.9 1644.0,1107.8 1647.0,1107.7 1650.0,1107.7 1653.0,1107.6 1656.0,1107.5 1659.0,1107.4 1662.0,1107.4 1665.0,1107.3 1668.0,1107.2 1671.0,1107.2 1674.0,1107.1 1677.0,1107.0 1680.0,1107.0 1683.0,1106.9 1686.0,1106.9 1689.0,1106.8 1692.0,1106.7 1695.0,1106.7 1698.0,1106.6 1701.0,1106.5 1704.0,1106.5 1707.0,1106.4 1710.0,1106.3 1713.0,1106.2 1716.0,1106.2 1719.0,1106.1 1722.0,1106.0 1725.0,1105.9 1728.0,1105.9 1731.0,1105.8 1734.0,1105.7 1737.0,1105.6 1740.0,1105.5 1743.0,1105.5 1746.0,1105.4 1749.0,1105.3 1752.0,1105.2 1755.0,1105.1 1758.0,1105.0 1761.0,1105.0 1764.0,1104.9 1767.0,1104.8 1770.0,1104.7 1773.0,1104.6 1776.0,1104.6 1779.0,1104.5 1782.0,1104.4 1785.0,1104.3 1788.0,1104.2 1791.0,1104.2 1794.0,1104.1 1797.0,1104.0 1800.0,1103.9 1803.0,1103.8 1806.0,1103.7 1809.0,1103.6 1812.0,1103.6 1815.0,1103.5 1818.0,1103.4 1821.0,1103.3 1824.0,1103.2 1827.0,1103.1 1830.0,1103.0 1833.0,1102.9 1836.0,1102.7 1839.0,1102.6 1842.0,1102.5 1845.0,1102.4 1848.0,1102.3 1851.0,1102.2 1854.0,1102.0 1857.0,1101.9 1860.0,1101.8 1863.0,1101.7 1866.0,1101.5 1869.0,1101.4 1872.0,1101.3 1875.0,1101.1 1878.0,1101.0 1881.0,1100.9 1884.0,1100.7 1887.0,1100.6 1890.0,1100.4 1893.0,1100.3 1896.0,1100.2 1899.0,1100.0 1902.0,1099.9 1905.0,1099.8 1908.0,1099.6 1911.0,1099.5 1914.0,1099.4 1917.0,1099.2 1920.0,1099.1 1923.0,1099.0 1926.0,1098.8 1929.0,1098.7 1932.0,1098.6 1935.0,1098.4 1938.0,1098.3 1941.0,1098.2 1944.0,1098.0 1945.0,1098.0" stroke="#40408e" stroke-width="3.0" stroke-dasharray="6 2.5 3 2.5"/>
<polyline points="318.0,27.6 321.0,32.6 324.0,37.6 327.0,42.6 330.0,47.5 333.0,52.5 336.0,57.5 339.0,62.5 342.0,67.5 345.0,72.4 348.0,77.4 351.0,82.4 354.0,87.4 357.0,92.3 360.0,97.3 363.0,102.3 366.0,107.3 369.0,112.2 372.0,117.2 375.0,122.2 378.0,127.1 381.0,132.1 384.0,137.1 387.0,142.0 390.0,147.0 393.0,151.9 396.0,156.9 399.0,161.9 402.0,166.8 405.0,171.8 408.0,176.7 411.0,181.7 414.0,186.6 417.0,191.6 420.0,196.5 423.0,201.5 426.0,206.4 429.0,211.4 432.0,216.3 435.0,221.2 438.0,226.2 441.0,231.1 444.0,236.1 447.0,241.0 450.0,245.9 453.0,250.9 456.0,255.8 459.0,260.7 462.0,265.6 465.0,270.6 468.0,275.5 471.0,280.4 474.0,285.3 477.0,290.2 480.0,295.1 483.0,300.0 486.0,304.9 489.0,309.9 492.0,314.8 495.0,319.7 498.0,324.5 501.0,329.4 504.0,334.3 507.0,339.2 510.0,344.1 513.0,349.0 516.0,353.9 519.0,358.7 522.0,363.6 525.0,368.5 528.0,373.4 531.0,378.2 534.0,383.1 537.0,387.9 540.0,392.8 543.0,397.6 546.0,402.5 549.0,407.3 552.0,412.2 555.0,417.0 558.0,421.8 561.0,426.7 564.0,431.5 567.0,436.3 570.0,441.1 573.0,445.9 576.0,450.8 579.0,455.6 582.0,460.4 585.0,465.1 588.0,469.9 591.0,474.7 594.0,479.5 597.0,484.3 600.0,489.0 603.0,493.8 606.0,498.6 609.0,503.3 612.0,508.1 615.0,512.8 618.0,517.5 621.0,522.3 624.0,527.0 627.0,531.7 630.0,536.4 633.0,541.1 636.0,545.8 639.0,550.5 642.0,555.2 645.0,559.9 648.0,564.5 651.0,569.2 654.0,573.9 657.0,578.5 660.0,583.2 663.0,587.8 666.0,592.4 669.0,597.0 672.0,601.6 675.0,606.2 678.0,610.8 681.0,615.4 684.0,620.0 687.0,624.6 690.0,629.1 693.0,633.7 696.0,638.2 699.0,642.7 702.0,647.3 705.0,651.8 708.0,656.3 711.0,660.8 714.0,665.2 717.0,669.7 720.0,674.2 723.0,678.6 726.0,683.0 729.0,687.5 732.0,691.9 735.0,696.3 738.0,700.7 741.0,705.0 744.0,709.4 747.0,713.8 750.0,718.1 753.0,722.4 756.0,726.7 759.0,731.0 762.0,735.3 765.0,739.6 768.0,743.8 771.0,748.1 774.0,752.3 777.0,756.5 780.0,760.7 783.0,764.9 786.0,769.1 789.0,773.2 792.0,777.4 795.0,781.5 798.0,785.6 801.0,789.7 804.0,793.8 807.0,797.9 810.0,802.0 813.0,806.0 816.0,810.1 819.0,814.2 822.0,818.2 825.0,822.3 828.0,826.4 831.0,830.5 834.0,834.6 837.0,838.8 840.0,842.9 843.0,847.0 846.0,851.2 849.0,855.3 852.0,859.3 855.0,863.3 858.0,867.3 861.0,871.2 864.0,875.1 867.0,878.9 870.0,882.6 873.0,886.3 876.0,890.0 879.0,893.6 882.0,897.1 885.0,900.7 888.0,904.1 891.0,907.5 894.0,910.9 897.0,914.3 900.0,917.6 903.0,920.9 906.0,924.1 909.0,927.3 912.0,930.5 915.0,933.6 918.0,936.7 921.0,939.8 924.0,942.9 927.0,945.9 930.0,948.9 933.0,951.8 936.0,954.7 939.0,957.6 942.0,960.5 945.0,963.3 948.0,966.2 951.0,968.9 954.0,971.7 957.0,974.5 960.0,977.2 963.0,979.9 966.0,982.5 969.0,985.2 972.0,987.8 975.0,990.4 978.0,993.0 981.0,995.6 984.0,998.2 987.0,1000.7 990.0,1003.2 993.0,1005.7 996.0,1008.1 999.0,1010.6 1002.0,1013.0 1005.0,1015.4 1008.0,1017.8 1011.0,1020.1 1014.0,1022.4 1017.0,1024.7 1020.0,1027.0 1023.0,1029.3 1026.0,1031.5 1029.0,1033.7 1032.0,1035.9 1035.0,1038.1 1038.0,1040.2 1041.0,1042.3 1044.0,1044.4 1047.0,1046.5 1050.0,1048.5 1053.0,1050.6 1056.0,1052.6 1059.0,1054.5 1062.0,1056.5 1065.0,1058.4 1068.0,1060.3 1071.0,1062.2 1074.0,1064.0 1077.0,1065.9 1080.0,1067.7 1083.0,1069.5 1086.0,1071.2 1089.0,1073.0 1092.0,1074.7 1095.0,1076.4 1098.0,1078.1 1101.0,1079.7 1104.0,1081.3 1107.0,1082.9 1110.0,1084.5 1113.0,1086.1 1116.0,1087.6 1119.0,1089.1 1122.0,1090.5 1125.0,1092.0 1128.0,1093.4 1131.0,1094.8 1134.0,1096.1 1137.0,1097.4 1140.0,1098.7 1143.0,1100.0 1146.0,1101.2 1149.0,1102.4 1152.0,1103.6 1155.0,1104.8 1158.0,1105.9 1161.0,1107.0 1164.0,1108.1 1167.0,1109.2 1170.0,1110.3 1173.0,1111.4 1176.0,1112.4 1179.0,1113.4 1182.0,1114.4 1185.0,1115.4 1188.0,1116.4 1191.0,1117.4 1194.0,1118.4 1197.0,1119.3 1200.0,1120.3 1203.0,1121.2 1206.0,1122.1 1209.0,1123.0 1212.0,1123.9 1215.0,1124.8 1218.0,1125.7 1221.0,1126.5 1224.0,1127.4 1227.0,1128.2 1230.0,1129.1 1233.0,1129.9 1236.0,1130.7 1239.0,1131.5 1242.0,1132.2 1245.0,1133.0 1248.0,1133.7 1251.0,1134.4 1254.0,1135.1 1257.0,1135.8 1260.0,1136.5 1263.0,1137.1 1266.0,1137.7 1269.0,1138.3 1272.0,1138.9 1275.0,1139.4 1278.0,1140.0 1281.0,1140.5 1284.0,1140.9 1287.0,1141.4 1290.0,1141.9 1293.0,1142.3 1296.0,1142.7 1299.0,1143.1 1302.0,1143.5 1305.0,1143.9 1308.0,1144.3 1311.0,1144.6 1314.0,1145.0 1317.0,1145.3 1320.0,1145.6 1323.0,1145.9 1326.0,1146.2 1329.0,1146.5 1332.0,1146.8 1335.0,1147.0 1338.0,1147.3 1341.0,1147.5 1344.0,1147.8 1347.0,1148.0 1350.0,1148.2 1353.0,1148.4 1356.0,1148.6 1359.0,1148.8 1362.0,1149.0 1365.0,1149.2 1368.0,1149.3 1371.0,1149.5 1374.0,1149.7 1377.0,1149.8 1380.0,1149.9 1383.0,1150.1 1386.0,1150.2 1389.0,1150.3 1392.0,1150.4 1395.0,1150.5 1398.0,1150.6 1401.0,1150.7 1404.0,1150.8 1407.0,1150.9 1410.0,1150.9 1413.0,1151.0 1416.0,1151.1 1419.0,1151.1 1422.0,1151.2 1425.0,1151.2 1428.0,1151.2 1431.0,1151.3 1434.0,1151.3 1437.0,1151.3 1440.0,1151.3 1443.0,1151.3 1446.0,1151.4 1449.0,1151.4 1452.0,1151.4 1455.0,1151.4 1458.0,1151.3 1461.0,1151.3 1464.0,1151.3 1467.0,1151.3 1470.0,1151.3 1473.0,1151.3 1476.0,1151.3 1479.0,1151.2 1482.0,1151.2 1485.0,1151.2 1488.0,1151.2 1491.0,1151.1 1494.0,1151.1 1497.0,1151.1 1500.0,1151.1 1503.0,1151.0 1506.0,1151.0 1509.0,1151.0 1512.0,1151.0 1515.0,1150.9 1518.0,1150.9 1521.0,1150.9 1524.0,1150.8 1527.0,1150.8 1530.0,1150.8 1533.0,1150.8 1536.0,1150.7 1539.0,1150.7 1542.0,1150.7 1545.0,1150.6 1548.0,1150.6 1551.0,1150.6 1554.0,1150.5 1557.0,1150.5 1560.0,1150.4 1563.0,1150.4 1566.0,1150.4 1569.0,1150.3 1572.0,1150.3 1575.0,1150.2 1578.0,1150.2 1581.0,1150.1 1584.0,1150.1 1587.0,1150.0 1590.0,1149.9 1593.0,1149.9 1596.0,1149.8 1599.0,1149.8 1602.0,1149.7 1605.0,1149.6 1608.0,1149.6 1611.0,1149.5 1614.0,1149.4 1617.0,1149.4 1620.0,1149.3 1623.0,1149.2 1626.0,1149.2 1629.0,1149.1 1632.0,1149.0 1635.0,1149.0 1638.0,1148.9 1641.0,1148.8 1644.0,1148.8 1647.0,1148.7 1650.0,1148.6 1653.0,1148.6 1656.0,1148.5 1659.0,1148.4 1662.0,1148.4 1665.0,1148.3 1668.0,1148.2 1671.0,1148.2 1674.0,1148.1 1677.0,1148.1 1680.0,1148.0 1683.0,1147.9 1686.0,1147.9 1689.0,1147.8 1692.0,1147.8 1695.0,1147.7 1698.0,1147.6 1701.0,1147.6 1704.0,1147.5 1707.0,1147.4 1710.0,1147.4 1713.0,1147.3 1716.0,1147.2 1719.0,1147.1 1722.0,1147.1 1725.0,1147.0 1728.0,1146.9 1731.0,1146.8 1734.0,1146.7 1737.0,1146.6 1740.0,1146.6 1743.0,1146.5 1746.0,1146.4 1749.0,1146.3 1752.0,1146.2 1755.0,1146.1 1758.0,1146.0 1761.0,1145.9 1764.0,1145.8 1767.0,1145.7 1770.0,1145.6 1773.0,1145.5 1776.0,1145.5 1779.0,1145.4 1782.0,1145.3 1785.0,1145.2 1788.0,1145.1 1791.0,1145.0 1794.0,1144.9 1797.0,1144.8 1800.0,1144.7 1803.0,1144.6 1806.0,1144.5 1809.0,1144.4 1812.0,1144.2 1815.0,1144.1 1818.0,1144.0 1821.0,1143.9 1824.0,1143.8 1827.0,1143.7 1830.0,1143.6 1833.0,1143.5 1836.0,1143.3 1839.0,1143.2 1842.0,1143.1 1845.0,1143.0 1848.0,1142.9 1851.0,1142.7 1854.0,1142.6 1857.0,1142.5 1860.0,1142.4 1863.0,1142.2 1866.0,1142.1 1869.0,1142.0 1872.0,1141.8 1875.0,1141.7 1878.0,1141.6 1881.0,1141.4 1884.0,1141.3 1887.0,1141.2 1890.0,1141.0 1893.0,1140.9 1896.0,1140.8 1899.0,1140.6 1902.0,1140.5 1905.0,1140.4 1908.0,1140.2 1911.0,1140.1 1914.0,1140.0 1917.0,1139.8 1920.0,1139.7 1923.0,1139.6 1926.0,1139.4 1929.0,1139.3 1932.0,1139.2 1935.0,1139.1 1938.0,1138.9 1941.0,1138.8 1944.0,1138.7 1945.0,1138.6" stroke="#70744a" stroke-width="3.6" stroke-dasharray="7.3 7.3"/>
<polyline points="318.0,27.7 321.0,32.7 324.0,37.7 327.0,42.7 330.0,47.7 333.0,52.6 336.0,57.6 339.0,62.6 342.0,67.6 345.0,72.6 348.0,77.6 351.0,82.5 354.0,87.5 357.0,92.5 360.0,97.5 363.0,102.4 366.0,107.4 369.0,112.4 372.0,117.4 375.0,122.3 378.0,127.3 381.0,132.3 384.0,137.2 387.0,142.2 390.0,147.2 393.0,152.1 396.0,157.1 399.0,162.1 402.0,167.0 405.0,172.0 408.0,177.0 411.0,181.9 414.0,186.9 417.0,191.8 420.0,196.8 423.0,201.7 426.0,206.7 429.0,211.6 432.0,216.6 435.0,221.5 438.0,226.5 441.0,231.4 444.0,236.4 447.0,241.3 450.0,246.3 453.0,251.2 456.0,256.1 459.0,261.1 462.0,266.0 465.0,270.9 468.0,275.9 471.0,280.8 474.0,285.7 477.0,290.6 480.0,295.6 483.0,300.5 486.0,305.4 489.0,310.3 492.0,315.2 495.0,320.1 498.0,325.1 501.0,330.0 504.0,334.9 507.0,339.8 510.0,344.7 513.0,349.6 516.0,354.5 519.0,359.3 522.0,364.2 525.0,369.1 528.0,374.0 531.0,378.9 534.0,383.8 537.0,388.6 540.0,393.5 543.0,398.4 546.0,403.2 549.0,408.1 552.0,413.0 555.0,417.8 558.0,422.7 561.0,427.5 564.0,432.4 567.0,437.2 570.0,442.1 573.0,446.9 576.0,451.7 579.0,456.5 582.0,461.4 585.0,466.2 588.0,471.0 591.0,475.8 594.0,480.6 597.0,485.4 600.0,490.2 603.0,495.0 606.0,499.8 609.0,504.6 612.0,509.4 615.0,514.1 618.0,518.9 621.0,523.7 624.0,528.4 627.0,533.2 630.0,537.9 633.0,542.7 636.0,547.4 639.0,552.1 642.0,556.9 645.0,561.6 648.0,566.3 651.0,571.0 654.0,575.7 657.0,580.4 660.0,585.1 663.0,589.8 666.0,594.4 669.0,599.1 672.0,603.8 675.0,608.4 678.0,613.1 681.0,617.7 684.0,622.3 687.0,627.0 690.0,631.6 693.0,636.2 696.0,640.8 699.0,645.4 702.0,650.0 705.0,654.5 708.0,659.1 711.0,663.6 714.0,668.2 717.0,672.7 720.0,677.3 723.0,681.8 726.0,686.3 729.0,690.8 732.0,695.3 735.0,699.8 738.0,704.2 741.0,708.7 744.0,713.1 747.0,717.6 750.0,722.0 753.0,726.4 756.0,730.8 759.0,735.2 762.0,739.6 765.0,743.9 768.0,748.3 771.0,752.6 774.0,757.0 777.0,761.3 780.0,765.6 783.0,769.9 786.0,774.2 789.0,778.4 792.0,782.7 795.0,786.9 798.0,791.2 801.0,795.4 804.0,799.6 807.0,803.8 810.0,808.0 813.0,812.2 816.0,816.4 819.0,820.6 822.0,824.8 825.0,829.0 828.0,833.2 831.0,837.3 834.0,841.5 837.0,845.6 840.0,849.7 843.0,853.8 846.0,857.9 849.0,861.9 852.0,865.9 855.0,869.9 858.0,873.8 861.0,877.8 864.0,881.7 867.0,885.6 870.0,889.4 873.0,893.2 876.0,897.0 879.0,900.8 882.0,904.5 885.0,908.3 888.0,911.9 891.0,915.6 894.0,919.3 897.0,922.9 900.0,926.5 903.0,930.0 906.0,933.6 909.0,937.1 912.0,940.6 915.0,944.0 918.0,947.4 921.0,950.8 924.0,954.2 927.0,957.5 930.0,960.9 933.0,964.1 936.0,967.4 939.0,970.6 942.0,973.8 945.0,977.0 948.0,980.1 951.0,983.3 954.0,986.4 957.0,989.4 960.0,992.5 963.0,995.5 966.0,998.5 969.0,1001.5 972.0,1004.4 975.0,1007.4 978.0,1010.3 981.0,1013.1 984.0,1016.0 987.0,1018.8 990.0,1021.7 993.0,1024.4 996.0,1027.2 999.0,1029.9 1002.0,1032.6 1005.0,1035.3 1008.0,1037.9 1011.0,1040.5 1014.0,1043.0 1017.0,1045.5 1020.0,1048.0 1023.0,1050.4 1026.0,1052.8 1029.0,1055.2 1032.0,1057.5 1035.0,1059.9 1038.0,1062.2 1041.0,1064.5 1044.0,1066.8 1047.0,1069.1 1050.0,1071.4 1053.0,1073.7 1056.0,1076.0 1059.0,1078.2 1062.0,1080.4 1065.0,1082.6 1068.0,1084.8 1071.0,1087.0 1074.0,1089.1 1077.0,1091.2 1080.0,1093.3 1083.0,1095.3 1086.0,1097.3 1089.0,1099.3 1092.0,1101.2 1095.0,1103.1 1098.0,1105.0 1101.0,1106.9 1104.0,1108.7 1107.0,1110.5 1110.0,1112.3 1113.0,1114.0 1116.0,1115.8 1119.0,1117.5 1122.0,1119.2 1125.0,1120.8 1128.0,1122.5 1131.0,1124.1 1134.0,1125.7 1137.0,1127.3 1140.0,1128.8 1143.0,1130.4 1146.0,1131.9 1149.0,1133.5 1152.0,1134.9 1155.0,1136.4 1158.0,1137.9 1161.0,1139.3 1164.0,1140.7 1167.0,1142.1 1170.0,1143.5 1173.0,1144.8 1176.0,1146.2 1179.0,1147.5 1182.0,1148.7 1185.0,1150.0 1188.0,1151.2 1191.0,1152.4 1194.0,1153.6 1197.0,1154.8 1200.0,1155.9 1203.0,1157.0 1206.0,1158.1 1209.0,1159.2 1212.0,1160.2 1215.0,1161.3 1218.0,1162.3 1221.0,1163.3 1224.0,1164.3 1227.0,1165.2 1230.0,1166.2 1233.0,1167.1 1236.0,1168.0 1239.0,1168.9 1242.0,1169.7 1245.0,1170.6 1248.0,1171.4 1251.0,1172.2 1254.0,1173.0 1257.0,1173.7 1260.0,1174.5 1263.0,1175.2 1266.0,1175.9 1269.0,1176.6 1272.0,1177.2 1275.0,1177.9 1278.0,1178.5 1281.0,1179.1 1284.0,1179.7 1287.0,1180.2 1290.0,1180.8 1293.0,1181.3 1296.0,1181.9 1299.0,1182.4 1302.0,1182.9 1305.0,1183.4 1308.0,1183.8 1311.0,1184.3 1314.0,1184.7 1317.0,1185.2 1320.0,1185.6 1323.0,1186.0 1326.0,1186.4 1329.0,1186.8 1332.0,1187.2 1335.0,1187.5 1338.0,1187.9 1341.0,1188.2 1344.0,1188.5 1347.0,1188.9 1350.0,1189.2 1353.0,1189.5 1356.0,1189.8 1359.0,1190.0 1362.0,1190.3 1365.0,1190.5 1368.0,1190.8 1371.0,1191.0 1374.0,1191.2 1377.0,1191.5 1380.0,1191.7 1383.0,1191.9 1386.0,1192.0 1389.0,1192.2 1392.0,1192.4 1395.0,1192.6 1398.0,1192.7 1401.0,1192.9 1404.0,1193.0 1407.0,1193.1 1410.0,1193.2 1413.0,1193.4 1416.0,1193.5 1419.0,1193.6 1422.0,1193.7 1425.0,1193.8 1428.0,1193.9 1431.0,1193.9 1434.0,1194.0 1437.0,1194.1 1440.0,1194.1 1443.0,1194.2 1446.0,1194.2 1449.0,1194.3 1452.0,1194.3 1455.0,1194.4 1458.0,1194.4 1461.0,1194.4 1464.0,1194.4 1467.0,1194.4 1470.0,1194.5 1473.0,1194.5 1476.0,1194.5 1479.0,1194.5 1482.0,1194.4 1485.0,1194.4 1488.0,1194.4 1491.0,1194.4 1494.0,1194.4 1497.0,1194.3 1500.0,1194.3 1503.0,1194.3 1506.0,1194.2 1509.0,1194.2 1512.0,1194.2 1515.0,1194.1 1518.0,1194.1 1521.0,1194.1 1524.0,1194.0 1527.0,1194.0 1530.0,1193.9 1533.0,1193.9 1536.0,1193.8 1539.0,1193.8 1542.0,1193.7 1545.0,1193.7 1548.0,1193.7 1551.0,1193.6 1554.0,1193.6 1557.0,1193.5 1560.0,1193.4 1563.0,1193.4 1566.0,1193.3 1569.0,1193.3 1572.0,1193.2 1575.0,1193.2 1578.0,1193.1 1581.0,1193.1 1584.0,1193.0 1587.0,1193.0 1590.0,1192.9 1593.0,1192.8 1596.0,1192.8 1599.0,1192.7 1602.0,1192.7 1605.0,1192.6 1608.0,1192.5 1611.0,1192.5 1614.0,1192.4 1617.0,1192.4 1620.0,1192.3 1623.0,1192.3 1626.0,1192.2 1629.0,1192.1 1632.0,1192.1 1635.0,1192.0 1638.0,1192.0 1641.0,1191.9 1644.0,1191.9 1647.0,1191.8 1650.0,1191.7 1653.0,1191.7 1656.0,1191.6 1659.0,1191.6 1662.0,1191.5 1665.0,1191.4 1668.0,1191.4 1671.0,1191.3 1674.0,1191.2 1677.0,1191.2 1680.0,1191.1 1683.0,1191.0 1686.0,1191.0 1689.0,1190.9 1692.0,1190.8 1695.0,1190.8 1698.0,1190.7 1701.0,1190.6 1704.0,1190.5 1707.0,1190.5 1710.0,1190.4 1713.0,1190.3 1716.0,1190.2 1719.0,1190.2 1722.0,1190.1 1725.0,1190.0 1728.0,1189.9 1731.0,1189.8 1734.0,1189.7 1737.0,1189.7 1740.0,1189.6 1743.0,1189.5 1746.0,1189.4 1749.0,1189.3 1752.0,1189.2 1755.0,1189.1 1758.0,1189.1 1761.0,1189.0 1764.0,1188.9 1767.0,1188.8 1770.0,1188.7 1773.0,1188.6 1776.0,1188.5 1779.0,1188.4 1782.0,1188.3 1785.0,1188.2 1788.0,1188.1 1791.0,1188.0 1794.0,1187.9 1797.0,1187.8 1800.0,1187.7 1803.0,1187.6 1806.0,1187.5 1809.0,1187.4 1812.0,1187.3 1815.0,1187.2 1818.0,1187.1 1821.0,1187.0 1824.0,1186.9 1827.0,1186.7 1830.0,1186.6 1833.0,1186.5 1836.0,1186.4 1839.0,1186.3 1842.0,1186.1 1845.0,1186.0 1848.0,1185.9 1851.0,1185.8 1854.0,1185.7 1857.0,1185.5 1860.0,1185.4 1863.0,1185.3 1866.0,1185.1 1869.0,1185.0 1872.0,1184.9 1875.0,1184.7 1878.0,1184.6 1881.0,1184.5 1884.0,1184.4 1887.0,1184.2 1890.0,1184.1 1893.0,1184.0 1896.0,1183.8 1899.0,1183.7 1902.0,1183.6 1905.0,1183.5 1908.0,1183.3 1911.0,1183.2 1914.0,1183.1 1917.0,1183.0 1920.0,1182.9 1923.0,1182.7 1926.0,1182.6 1929.0,1182.5 1932.0,1182.4 1935.0,1182.3 1938.0,1182.2 1941.0,1182.1 1944.0,1182.0 1945.0,1181.9" stroke="#bc48b2" stroke-width="3.6" stroke-dasharray="16 6.5 5.5 7.3 5.5 7.2"/>
<polyline points="318.0,28.2 321.0,33.1 324.0,38.1 327.0,43.1 330.0,48.1 333.0,53.1 336.0,58.1 339.0,63.1 342.0,68.1 345.0,73.1 348.0,78.1 351.0,83.1 354.0,88.1 357.0,93.0 360.0,98.0 363.0,103.0 366.0,108.0 369.0,113.0 372.0,118.0 375.0,123.0 378.0,127.9 381.0,132.9 384.0,137.9 387.0,142.9 390.0,147.9 393.0,152.9 396.0,157.8 399.0,162.8 402.0,167.8 405.0,172.8 408.0,177.7 411.0,182.7 414.0,187.7 417.0,192.7 420.0,197.6 423.0,202.6 426.0,207.6 429.0,212.5 432.0,217.5 435.0,222.5 438.0,227.4 441.0,232.4 444.0,237.4 447.0,242.3 450.0,247.3 453.0,252.2 456.0,257.2 459.0,262.1 462.0,267.1 465.0,272.1 468.0,277.0 471.0,282.0 474.0,286.9 477.0,291.9 480.0,296.8 483.0,301.7 486.0,306.7 489.0,311.6 492.0,316.6 495.0,321.5 498.0,326.4 501.0,331.4 504.0,336.3 507.0,341.2 510.0,346.2 513.0,351.1 516.0,356.0 519.0,360.9 522.0,365.8 525.0,370.8 528.0,375.7 531.0,380.6 534.0,385.5 537.0,390.4 540.0,395.3 543.0,400.2 546.0,405.1 549.0,410.0 552.0,414.9 555.0,419.8 558.0,424.7 561.0,429.6 564.0,434.5 567.0,439.4 570.0,444.2 573.0,449.1 576.0,454.0 579.0,458.9 582.0,463.7 585.0,468.6 588.0,473.4 591.0,478.3 594.0,483.2 597.0,488.0 600.0,492.9 603.0,497.7 606.0,502.5 609.0,507.4 612.0,512.2 615.0,517.0 618.0,521.8 621.0,526.7 624.0,531.5 627.0,536.3 630.0,541.1 633.0,545.9 636.0,550.7 639.0,555.5 642.0,560.3 645.0,565.1 648.0,569.8 651.0,574.6 654.0,579.4 657.0,584.1 660.0,588.9 663.0,593.7 666.0,598.4 669.0,603.1 672.0,607.9 675.0,612.6 678.0,617.3 681.0,622.0 684.0,626.7 687.0,631.5 690.0,636.2 693.0,640.8 696.0,645.5 699.0,650.2 702.0,654.9 705.0,659.5 708.0,664.2 711.0,668.8 714.0,673.5 717.0,678.1 720.0,682.7 723.0,687.4 726.0,692.0 729.0,696.6 732.0,701.2 735.0,705.7 738.0,710.3 741.0,714.9 744.0,719.4 747.0,724.0 750.0,728.5 753.0,733.1 756.0,737.6 759.0,742.1 762.0,746.6 765.0,751.1 768.0,755.6 771.0,760.0 774.0,764.5 777.0,768.9 780.0,773.4 783.0,777.8 786.0,782.2 789.0,786.6 792.0,791.0 795.0,795.4 798.0,799.7 801.0,804.1 804.0,808.4 807.0,812.8 810.0,817.1 813.0,821.4 816.0,825.7 819.0,830.0 822.0,834.2 825.0,838.5 828.0,842.7 831.0,847.0 834.0,851.2 837.0,855.4 840.0,859.6 843.0,863.8 846.0,868.0 849.0,872.2 852.0,876.3 855.0,880.4 858.0,884.5 861.0,888.6 864.0,892.7 867.0,896.8 870.0,900.8 873.0,904.8 876.0,908.8 879.0,912.8 882.0,916.7 885.0,920.7 888.0,924.6 891.0,928.5 894.0,932.3 897.0,936.2 900.0,940.0 903.0,943.8 906.0,947.6 909.0,951.3 912.0,955.1 915.0,958.8 918.0,962.5 921.0,966.1 924.0,969.8 927.0,973.4 930.0,977.0 933.0,980.5 936.0,984.1 939.0,987.6 942.0,991.1 945.0,994.5 948.0,998.0 951.0,1001.4 954.0,1004.8 957.0,1008.2 960.0,1011.6 963.0,1014.9 966.0,1018.2 969.0,1021.5 972.0,1024.8 975.0,1028.0 978.0,1031.2 981.0,1034.4 984.0,1037.6 987.0,1040.8 990.0,1043.9 993.0,1047.0 996.0,1050.0 999.0,1053.0 1002.0,1056.0 1005.0,1059.0 1008.0,1061.9 1011.0,1064.8 1014.0,1067.6 1017.0,1070.4 1020.0,1073.2 1023.0,1075.9 1026.0,1078.6 1029.0,1081.3 1032.0,1084.0 1035.0,1086.6 1038.0,1089.2 1041.0,1091.8 1044.0,1094.3 1047.0,1096.9 1050.0,1099.4 1053.0,1101.9 1056.0,1104.3 1059.0,1106.8 1062.0,1109.2 1065.0,1111.6 1068.0,1114.0 1071.0,1116.3 1074.0,1118.7 1077.0,1121.0 1080.0,1123.3 1083.0,1125.5 1086.0,1127.7 1089.0,1129.9 1092.0,1132.1 1095.0,1134.2 1098.0,1136.3 1101.0,1138.4 1104.0,1140.5 1107.0,1142.5 1110.0,1144.5 1113.0,1146.5 1116.0,1148.4 1119.0,1150.3 1122.0,1152.2 1125.0,1154.1 1128.0,1156.0 1131.0,1157.8 1134.0,1159.6 1137.0,1161.4 1140.0,1163.2 1143.0,1164.9 1146.0,1166.7 1149.0,1168.4 1152.0,1170.1 1155.0,1171.8 1158.0,1173.4 1161.0,1175.0 1164.0,1176.6 1167.0,1178.2 1170.0,1179.7 1173.0,1181.3 1176.0,1182.8 1179.0,1184.2 1182.0,1185.7 1185.0,1187.1 1188.0,1188.5 1191.0,1189.9 1194.0,1191.2 1197.0,1192.5 1200.0,1193.8 1203.0,1195.1 1206.0,1196.4 1209.0,1197.6 1212.0,1198.8 1215.0,1200.0 1218.0,1201.1 1221.0,1202.2 1224.0,1203.3 1227.0,1204.4 1230.0,1205.5 1233.0,1206.5 1236.0,1207.5 1239.0,1208.5 1242.0,1209.4 1245.0,1210.4 1248.0,1211.3 1251.0,1212.1 1254.0,1213.0 1257.0,1213.8 1260.0,1214.6 1263.0,1215.4 1266.0,1216.2 1269.0,1216.9 1272.0,1217.7 1275.0,1218.4 1278.0,1219.1 1281.0,1219.7 1284.0,1220.4 1287.0,1221.0 1290.0,1221.7 1293.0,1222.3 1296.0,1222.9 1299.0,1223.4 1302.0,1224.0 1305.0,1224.5 1308.0,1225.1 1311.0,1225.6 1314.0,1226.1 1317.0,1226.6 1320.0,1227.1 1323.0,1227.5 1326.0,1228.0 1329.0,1228.4 1332.0,1228.8 1335.0,1229.2 1338.0,1229.6 1341.0,1230.0 1344.0,1230.4 1347.0,1230.8 1350.0,1231.1 1353.0,1231.5 1356.0,1231.8 1359.0,1232.1 1362.0,1232.5 1365.0,1232.8 1368.0,1233.1 1371.0,1233.3 1374.0,1233.6 1377.0,1233.9 1380.0,1234.1 1383.0,1234.4 1386.0,1234.6 1389.0,1234.8 1392.0,1235.0 1395.0,1235.3 1398.0,1235.5 1401.0,1235.6 1404.0,1235.8 1407.0,1236.0 1410.0,1236.2 1413.0,1236.3 1416.0,1236.5 1419.0,1236.6 1422.0,1236.7 1425.0,1236.9 1428.0,1237.0 1431.0,1237.1 1434.0,1237.2 1437.0,1237.3 1440.0,1237.4 1443.0,1237.5 1446.0,1237.5 1449.0,1237.6 1452.0,1237.7 1455.0,1237.7 1458.0,1237.8 1461.0,1237.8 1464.0,1237.8 1467.0,1237.9 1470.0,1237.9 1473.0,1237.9 1476.0,1237.9 1479.0,1237.9 1482.0,1237.9 1485.0,1237.9 1488.0,1237.9 1491.0,1237.9 1494.0,1237.9 1497.0,1237.8 1500.0,1237.8 1503.0,1237.8 1506.0,1237.8 1509.0,1237.7 1512.0,1237.7 1515.0,1237.6 1518.0,1237.6 1521.0,1237.6 1524.0,1237.5 1527.0,1237.5 1530.0,1237.4 1533.0,1237.4 1536.0,1237.3 1539.0,1237.3 1542.0,1237.2 1545.0,1237.2 1548.0,1237.1 1551.0,1237.1 1554.0,1237.0 1557.0,1236.9 1560.0,1236.9 1563.0,1236.8 1566.0,1236.8 1569.0,1236.7 1572.0,1236.7 1575.0,1236.6 1578.0,1236.5 1581.0,1236.5 1584.0,1236.4 1587.0,1236.4 1590.0,1236.3 1593.0,1236.2 1596.0,1236.2 1599.0,1236.1 1602.0,1236.0 1605.0,1236.0 1608.0,1235.9 1611.0,1235.9 1614.0,1235.8 1617.0,1235.7 1620.0,1235.7 1623.0,1235.6 1626.0,1235.5 1629.0,1235.5 1632.0,1235.4 1635.0,1235.4 1638.0,1235.3 1641.0,1235.2 1644.0,1235.2 1647.0,1235.1 1650.0,1235.1 1653.0,1235.0 1656.0,1234.9 1659.0,1234.9 1662.0,1234.8 1665.0,1234.8 1668.0,1234.7 1671.0,1234.6 1674.0,1234.6 1677.0,1234.5 1680.0,1234.4 1683.0,1234.4 1686.0,1234.3 1689.0,1234.3 1692.0,1234.2 1695.0,1234.1 1698.0,1234.1 1701.0,1234.0 1704.0,1233.9 1707.0,1233.9 1710.0,1233.8 1713.0,1233.7 1716.0,1233.7 1719.0,1233.6 1722.0,1233.5 1725.0,1233.5 1728.0,1233.4 1731.0,1233.3 1734.0,1233.3 1737.0,1233.2 1740.0,1233.1 1743.0,1233.1 1746.0,1233.0 1749.0,1232.9 1752.0,1232.8 1755.0,1232.8 1758.0,1232.7 1761.0,1232.6 1764.0,1232.6 1767.0,1232.5 1770.0,1232.4 1773.0,1232.3 1776.0,1232.3 1779.0,1232.2 1782.0,1232.1 1785.0,1232.0 1788.0,1231.9 1791.0,1231.9 1794.0,1231.8 1797.0,1231.7 1800.0,1231.6 1803.0,1231.5 1806.0,1231.4 1809.0,1231.3 1812.0,1231.3 1815.0,1231.2 1818.0,1231.1 1821.0,1231.0 1824.0,1230.9 1827.0,1230.8 1830.0,1230.7 1833.0,1230.6 1836.0,1230.5 1839.0,1230.4 1842.0,1230.3 1845.0,1230.2 1848.0,1230.1 1851.0,1230.0 1854.0,1229.9 1857.0,1229.8 1860.0,1229.7 1863.0,1229.6 1866.0,1229.5 1869.0,1229.4 1872.0,1229.3 1875.0,1229.2 1878.0,1229.1 1881.0,1229.0 1884.0,1228.9 1887.0,1228.8 1890.0,1228.7 1893.0,1228.6 1896.0,1228.5 1899.0,1228.4 1902.0,1228.4 1905.0,1228.3 1908.0,1228.2 1911.0,1228.1 1914.0,1228.0 1917.0,1228.0 1920.0,1227.9 1923.0,1227.8 1926.0,1227.7 1929.0,1227.7 1932.0,1227.6 1935.0,1227.6 1938.0,1227.5 1941.0,1227.4 1944.0,1227.4 1945.0,1227.4" stroke="#1f7d73" stroke-width="4.0" stroke-dasharray="18.5 8.5 4 9"/>
<polyline points="318.0,28.6 321.0,33.6 324.0,38.6 327.0,43.6 330.0,48.6 333.0,53.6 336.0,58.6 339.0,63.6 342.0,68.6 345.0,73.7 348.0,78.7 351.0,83.7 354.0,88.7 357.0,93.7 360.0,98.7 363.0,103.7 366.0,108.7 369.0,113.7 372.0,118.7 375.0,123.7 378.0,128.7 381.0,133.7 384.0,138.6 387.0,143.6 390.0,148.6 393.0,153.6 396.0,158.6 399.0,163.6 402.0,168.6 405.0,173.6 408.0,178.6 411.0,183.6 414.0,188.6 417.0,193.6 420.0,198.6 423.0,203.6 426.0,208.5 429.0,213.5 432.0,218.5 435.0,223.5 438.0,228.5 441.0,233.5 444.0,238.5 447.0,243.4 450.0,248.4 453.0,253.4 456.0,258.4 459.0,263.4 462.0,268.4 465.0,273.3 468.0,278.3 471.0,283.3 474.0,288.3 477.0,293.2 480.0,298.2 483.0,303.2 486.0,308.2 489.0,313.1 492.0,318.1 495.0,323.1 498.0,328.0 501.0,333.0 504.0,338.0 507.0,342.9 510.0,347.9 513.0,352.8 516.0,357.8 519.0,362.8 522.0,367.7 525.0,372.7 528.0,377.6 531.0,382.6 534.0,387.5 537.0,392.5 540.0,397.4 543.0,402.4 546.0,407.3 549.0,412.2 552.0,417.2 555.0,422.1 558.0,427.1 561.0,432.0 564.0,436.9 567.0,441.9 570.0,446.8 573.0,451.7 576.0,456.6 579.0,461.6 582.0,466.5 585.0,471.4 588.0,476.3 591.0,481.2 594.0,486.1 597.0,491.0 600.0,496.0 603.0,500.9 606.0,505.8 609.0,510.7 612.0,515.5 615.0,520.4 618.0,525.3 621.0,530.2 624.0,535.1 627.0,540.0 630.0,544.9 633.0,549.7 636.0,554.6 639.0,559.5 642.0,564.3 645.0,569.2 648.0,574.0 651.0,578.9 654.0,583.7 657.0,588.6 660.0,593.4 663.0,598.3 666.0,603.1 669.0,607.9 672.0,612.7 675.0,617.6 678.0,622.4 681.0,627.2 684.0,632.0 687.0,636.8 690.0,641.6 693.0,646.4 696.0,651.2 699.0,655.9 702.0,660.7 705.0,665.5 708.0,670.3 711.0,675.0 714.0,679.8 717.0,684.5 720.0,689.3 723.0,694.0 726.0,698.7 729.0,703.4 732.0,708.2 735.0,712.9 738.0,717.6 741.0,722.3 744.0,726.9 747.0,731.6 750.0,736.3 753.0,741.0 756.0,745.6 759.0,750.3 762.0,754.9 765.0,759.6 768.0,764.2 771.0,768.8 774.0,773.4 777.0,778.0 780.0,782.6 783.0,787.2 786.0,791.7 789.0,796.3 792.0,800.9 795.0,805.4 798.0,809.9 801.0,814.5 804.0,819.0 807.0,823.5 810.0,828.0 813.0,832.5 816.0,837.0 819.0,841.4 822.0,845.9 825.0,850.4 828.0,854.8 831.0,859.2 834.0,863.7 837.0,868.1 840.0,872.4 843.0,876.8 846.0,881.2 849.0,885.5 852.0,889.8 855.0,894.1 858.0,898.4 861.0,902.7 864.0,906.9 867.0,911.2 870.0,915.4 873.0,919.6 876.0,923.8 879.0,927.9 882.0,932.1 885.0,936.2 888.0,940.3 891.0,944.4 894.0,948.5 897.0,952.6 900.0,956.6 903.0,960.6 906.0,964.6 909.0,968.6 912.0,972.5 915.0,976.5 918.0,980.4 921.0,984.3 924.0,988.2 927.0,992.1 930.0,995.9 933.0,999.7 936.0,1003.5 939.0,1007.3 942.0,1011.1 945.0,1014.9 948.0,1018.6 951.0,1022.4 954.0,1026.1 957.0,1029.8 960.0,1033.5 963.0,1037.2 966.0,1040.8 969.0,1044.4 972.0,1048.0 975.0,1051.6 978.0,1055.2 981.0,1058.7 984.0,1062.2 987.0,1065.7 990.0,1069.1 993.0,1072.5 996.0,1075.8 999.0,1079.1 1002.0,1082.4 1005.0,1085.7 1008.0,1088.9 1011.0,1092.0 1014.0,1095.2 1017.0,1098.3 1020.0,1101.4 1023.0,1104.4 1026.0,1107.4 1029.0,1110.4 1032.0,1113.4 1035.0,1116.3 1038.0,1119.2 1041.0,1122.1 1044.0,1125.0 1047.0,1127.8 1050.0,1130.6 1053.0,1133.4 1056.0,1136.2 1059.0,1138.9 1062.0,1141.6 1065.0,1144.3 1068.0,1146.9 1071.0,1149.6 1074.0,1152.2 1077.0,1154.8 1080.0,1157.3 1083.0,1159.8 1086.0,1162.3 1089.0,1164.8 1092.0,1167.2 1095.0,1169.6 1098.0,1171.9 1101.0,1174.3 1104.0,1176.6 1107.0,1178.8 1110.0,1181.1 1113.0,1183.3 1116.0,1185.4 1119.0,1187.6 1122.0,1189.7 1125.0,1191.8 1128.0,1193.8 1131.0,1195.9 1134.0,1197.9 1137.0,1199.8 1140.0,1201.8 1143.0,1203.7 1146.0,1205.5 1149.0,1207.4 1152.0,1209.2 1155.0,1211.0 1158.0,1212.8 1161.0,1214.5 1164.0,1216.2 1167.0,1217.9 1170.0,1219.6 1173.0,1221.2 1176.0,1222.8 1179.0,1224.4 1182.0,1226.0 1185.0,1227.5 1188.0,1229.1 1191.0,1230.5 1194.0,1232.0 1197.0,1233.4 1200.0,1234.9 1203.0,1236.3 1206.0,1237.6 1209.0,1239.0 1212.0,1240.3 1215.0,1241.6 1218.0,1242.8 1221.0,1244.1 1224.0,1245.3 1227.0,1246.5 1230.0,1247.6 1233.0,1248.8 1236.0,1249.9 1239.0,1251.0 1242.0,1252.1 1245.0,1253.1 1248.0,1254.2 1251.0,1255.2 1254.0,1256.2 1257.0,1257.2 1260.0,1258.1 1263.0,1259.0 1266.0,1259.9 1269.0,1260.8 1272.0,1261.7 1275.0,1262.5 1278.0,1263.3 1281.0,1264.1 1284.0,1264.9 1287.0,1265.7 1290.0,1266.4 1293.0,1267.1 1296.0,1267.8 1299.0,1268.5 1302.0,1269.1 1305.0,1269.8 1308.0,1270.4 1311.0,1271.0 1314.0,1271.5 1317.0,1272.1 1320.0,1272.6 1323.0,1273.2 1326.0,1273.7 1329.0,1274.2 1332.0,1274.6 1335.0,1275.1 1338.0,1275.6 1341.0,1276.0 1344.0,1276.4 1347.0,1276.8 1350.0,1277.2 1353.0,1277.6 1356.0,1278.0 1359.0,1278.3 1362.0,1278.7 1365.0,1279.0 1368.0,1279.3 1371.0,1279.6 1374.0,1279.9 1377.0,1280.2 1380.0,1280.5 1383.0,1280.8 1386.0,1281.0 1389.0,1281.2 1392.0,1281.5 1395.0,1281.7 1398.0,1281.9 1401.0,1282.1 1404.0,1282.3 1407.0,1282.5 1410.0,1282.7 1413.0,1282.8 1416.0,1283.0 1419.0,1283.2 1422.0,1283.3 1425.0,1283.4 1428.0,1283.6 1431.0,1283.7 1434.0,1283.8 1437.0,1283.9 1440.0,1284.0 1443.0,1284.1 1446.0,1284.2 1449.0,1284.3 1452.0,1284.3 1455.0,1284.4 1458.0,1284.5 1461.0,1284.5 1464.0,1284.6 1467.0,1284.6 1470.0,1284.7 1473.0,1284.7 1476.0,1284.7 1479.0,1284.8 1482.0,1284.8 1485.0,1284.8 1488.0,1284.8 1491.0,1284.9 1494.0,1284.9 1497.0,1284.9 1500.0,1284.9 1503.0,1284.9 1506.0,1284.9 1509.0,1284.9 1512.0,1284.9 1515.0,1284.8 1518.0,1284.8 1521.0,1284.8 1524.0,1284.8 1527.0,1284.8 1530.0,1284.7 1533.0,1284.7 1536.0,1284.7 1539.0,1284.7 1542.0,1284.6 1545.0,1284.6 1548.0,1284.5 1551.0,1284.5 1554.0,1284.5 1557.0,1284.4 1560.0,1284.4 1563.0,1284.3 1566.0,1284.3 1569.0,1284.2 1572.0,1284.2 1575.0,1284.1 1578.0,1284.1 1581.0,1284.0 1584.0,1284.0 1587.0,1283.9 1590.0,1283.9 1593.0,1283.8 1596.0,1283.8 1599.0,1283.7 1602.0,1283.6 1605.0,1283.6 1608.0,1283.5 1611.0,1283.5 1614.0,1283.4 1617.0,1283.4 1620.0,1283.3 1623.0,1283.2 1626.0,1283.2 1629.0,1283.1 1632.0,1283.1 1635.0,1283.0 1638.0,1283.0 1641.0,1282.9 1644.0,1282.8 1647.0,1282.8 1650.0,1282.7 1653.0,1282.7 1656.0,1282.6 1659.0,1282.6 1662.0,1282.5 1665.0,1282.5 1668.0,1282.4 1671.0,1282.4 1674.0,1282.3 1677.0,1282.2 1680.0,1282.2 1683.0,1282.1 1686.0,1282.1 1689.0,1282.0 1692.0,1282.0 1695.0,1281.9 1698.0,1281.9 1701.0,1281.8 1704.0,1281.7 1707.0,1281.7 1710.0,1281.6 1713.0,1281.6 1716.0,1281.5 1719.0,1281.4 1722.0,1281.4 1725.0,1281.3 1728.0,1281.2 1731.0,1281.2 1734.0,1281.1 1737.0,1281.0 1740.0,1281.0 1743.0,1280.9 1746.0,1280.8 1749.0,1280.8 1752.0,1280.7 1755.0,1280.6 1758.0,1280.5 1761.0,1280.5 1764.0,1280.4 1767.0,1280.3 1770.0,1280.2 1773.0,1280.1 1776.0,1280.0 1779.0,1280.0 1782.0,1279.9 1785.0,1279.8 1788.0,1279.7 1791.0,1279.6 1794.0,1279.5 1797.0,1279.4 1800.0,1279.3 1803.0,1279.2 1806.0,1279.1 1809.0,1279.0 1812.0,1278.9 1815.0,1278.8 1818.0,1278.7 1821.0,1278.6 1824.0,1278.5 1827.0,1278.4 1830.0,1278.3 1833.0,1278.2 1836.0,1278.1 1839.0,1277.9 1842.0,1277.8 1845.0,1277.7 1848.0,1277.6 1851.0,1277.5 1854.0,1277.4 1857.0,1277.3 1860.0,1277.2 1863.0,1277.1 1866.0,1277.0 1869.0,1276.8 1872.0,1276.7 1875.0,1276.6 1878.0,1276.5 1881.0,1276.4 1884.0,1276.3 1887.0,1276.2 1890.0,1276.1 1893.0,1276.0 1896.0,1275.9 1899.0,1275.8 1902.0,1275.8 1905.0,1275.7 1908.0,1275.6 1911.0,1275.5 1914.0,1275.4 1917.0,1275.3 1920.0,1275.3 1923.0,1275.2 1926.0,1275.1 1929.0,1275.1 1932.0,1275.0 1935.0,1274.9 1938.0,1274.9 1941.0,1274.8 1944.0,1274.7 1945.0,1274.7" stroke="#303058" stroke-width="4.4" stroke-dasharray="0.5 18.6" stroke-linecap="round"/>
<polyline points="318.0,29.0 321.0,34.0 324.0,39.1 327.0,44.1 330.0,49.1 333.0,54.1 336.0,59.1 339.0,64.1 342.0,69.1 345.0,74.2 348.0,79.2 351.0,84.2 354.0,89.2 357.0,94.2 360.0,99.2 363.0,104.2 366.0,109.3 369.0,114.3 372.0,119.3 375.0,124.3 378.0,129.3 381.0,134.3 384.0,139.3 387.0,144.3 390.0,149.4 393.0,154.4 396.0,159.4 399.0,164.4 402.0,169.4 405.0,174.4 408.0,179.4 411.0,184.4 414.0,189.5 417.0,194.5 420.0,199.5 423.0,204.5 426.0,209.5 429.0,214.5 432.0,219.5 435.0,224.5 438.0,229.5 441.0,234.5 444.0,239.5 447.0,244.6 450.0,249.6 453.0,254.6 456.0,259.6 459.0,264.6 462.0,269.6 465.0,274.6 468.0,279.6 471.0,284.6 474.0,289.6 477.0,294.6 480.0,299.6 483.0,304.6 486.0,309.6 489.0,314.6 492.0,319.6 495.0,324.6 498.0,329.7 501.0,334.7 504.0,339.7 507.0,344.7 510.0,349.7 513.0,354.7 516.0,359.7 519.0,364.7 522.0,369.7 525.0,374.7 528.0,379.7 531.0,384.6 534.0,389.6 537.0,394.6 540.0,399.6 543.0,404.6 546.0,409.6 549.0,414.6 552.0,419.6 555.0,424.6 558.0,429.6 561.0,434.6 564.0,439.6 567.0,444.6 570.0,449.5 573.0,454.5 576.0,459.5 579.0,464.5 582.0,469.5 585.0,474.5 588.0,479.5 591.0,484.4 594.0,489.4 597.0,494.4 600.0,499.4 603.0,504.4 606.0,509.3 609.0,514.3 612.0,519.3 615.0,524.2 618.0,529.2 621.0,534.2 624.0,539.2 627.0,544.1 630.0,549.1 633.0,554.1 636.0,559.0 639.0,564.0 642.0,568.9 645.0,573.9 648.0,578.8 651.0,583.8 654.0,588.8 657.0,593.7 660.0,598.7 663.0,603.6 666.0,608.5 669.0,613.5 672.0,618.4 675.0,623.4 678.0,628.3 681.0,633.2 684.0,638.2 687.0,643.1 690.0,648.0 693.0,652.9 696.0,657.9 699.0,662.8 702.0,667.7 705.0,672.6 708.0,677.5 711.0,682.4 714.0,687.3 717.0,692.2 720.0,697.1 723.0,702.0 726.0,706.9 729.0,711.8 732.0,716.7 735.0,721.5 738.0,726.4 741.0,731.3 744.0,736.2 747.0,741.0 750.0,745.9 753.0,750.7 756.0,755.6 759.0,760.4 762.0,765.3 765.0,770.1 768.0,774.9 771.0,779.7 774.0,784.6 777.0,789.4 780.0,794.2 783.0,799.0 786.0,803.8 789.0,808.6 792.0,813.4 795.0,818.1 798.0,822.9 801.0,827.7 804.0,832.5 807.0,837.2 810.0,842.0 813.0,846.8 816.0,851.6 819.0,856.3 822.0,861.1 825.0,865.9 828.0,870.7 831.0,875.4 834.0,880.2 837.0,885.0 840.0,889.8 843.0,894.5 846.0,899.3 849.0,904.0 852.0,908.8 855.0,913.5 858.0,918.2 861.0,922.9 864.0,927.6 867.0,932.2 870.0,936.9 873.0,941.5 876.0,946.1 879.0,950.7 882.0,955.3 885.0,959.9 888.0,964.4 891.0,969.0 894.0,973.5 897.0,978.0 900.0,982.4 903.0,986.9 906.0,991.3 909.0,995.7 912.0,1000.1 915.0,1004.5 918.0,1008.8 921.0,1013.1 924.0,1017.4 927.0,1021.6 930.0,1025.8 933.0,1030.0 936.0,1034.2 939.0,1038.3 942.0,1042.4 945.0,1046.5 948.0,1050.5 951.0,1054.5 954.0,1058.5 957.0,1062.4 960.0,1066.4 963.0,1070.2 966.0,1074.1 969.0,1077.9 972.0,1081.7 975.0,1085.5 978.0,1089.2 981.0,1092.9 984.0,1096.6 987.0,1100.2 990.0,1103.9 993.0,1107.5 996.0,1111.0 999.0,1114.5 1002.0,1118.0 1005.0,1121.5 1008.0,1125.0 1011.0,1128.4 1014.0,1131.8 1017.0,1135.1 1020.0,1138.5 1023.0,1141.8 1026.0,1145.1 1029.0,1148.3 1032.0,1151.6 1035.0,1154.8 1038.0,1158.0 1041.0,1161.2 1044.0,1164.4 1047.0,1167.5 1050.0,1170.6 1053.0,1173.7 1056.0,1176.8 1059.0,1179.9 1062.0,1182.9 1065.0,1185.9 1068.0,1188.8 1071.0,1191.8 1074.0,1194.7 1077.0,1197.6 1080.0,1200.4 1083.0,1203.2 1086.0,1206.0 1089.0,1208.7 1092.0,1211.4 1095.0,1214.0 1098.0,1216.6 1101.0,1219.2 1104.0,1221.7 1107.0,1224.2 1110.0,1226.7 1113.0,1229.1 1116.0,1231.5 1119.0,1233.9 1122.0,1236.2 1125.0,1238.4 1128.0,1240.7 1131.0,1242.9 1134.0,1245.1 1137.0,1247.2 1140.0,1249.3 1143.0,1251.4 1146.0,1253.4 1149.0,1255.4 1152.0,1257.4 1155.0,1259.3 1158.0,1261.2 1161.0,1263.1 1164.0,1264.9 1167.0,1266.7 1170.0,1268.5 1173.0,1270.3 1176.0,1272.0 1179.0,1273.7 1182.0,1275.4 1185.0,1277.1 1188.0,1278.7 1191.0,1280.3 1194.0,1281.8 1197.0,1283.4 1200.0,1284.9 1203.0,1286.3 1206.0,1287.8 1209.0,1289.2 1212.0,1290.5 1215.0,1291.9 1218.0,1293.2 1221.0,1294.5 1224.0,1295.8 1227.0,1297.0 1230.0,1298.2 1233.0,1299.4 1236.0,1300.6 1239.0,1301.8 1242.0,1302.9 1245.0,1304.0 1248.0,1305.1 1251.0,1306.2 1254.0,1307.2 1257.0,1308.2 1260.0,1309.2 1263.0,1310.2 1266.0,1311.1 1269.0,1312.0 1272.0,1312.9 1275.0,1313.7 1278.0,1314.6 1281.0,1315.4 1284.0,1316.2 1287.0,1316.9 1290.0,1317.7 1293.0,1318.4 1296.0,1319.1 1299.0,1319.7 1302.0,1320.4 1305.0,1321.0 1308.0,1321.6 1311.0,1322.2 1314.0,1322.8 1317.0,1323.4 1320.0,1323.9 1323.0,1324.5 1326.0,1325.0 1329.0,1325.5 1332.0,1326.1 1335.0,1326.6 1338.0,1327.1 1341.0,1327.6 1344.0,1328.1 1347.0,1328.5 1350.0,1329.0 1353.0,1329.4 1356.0,1329.9 1359.0,1330.3 1362.0,1330.7 1365.0,1331.1 1368.0,1331.5 1371.0,1331.9 1374.0,1332.2 1377.0,1332.6 1380.0,1332.9 1383.0,1333.2 1386.0,1333.6 1389.0,1333.9 1392.0,1334.2 1395.0,1334.4 1398.0,1334.7 1401.0,1335.0 1404.0,1335.3 1407.0,1335.5 1410.0,1335.8 1413.0,1336.0 1416.0,1336.2 1419.0,1336.4 1422.0,1336.6 1425.0,1336.8 1428.0,1337.0 1431.0,1337.2 1434.0,1337.4 1437.0,1337.6 1440.0,1337.8 1443.0,1337.9 1446.0,1338.1 1449.0,1338.2 1452.0,1338.3 1455.0,1338.5 1458.0,1338.6 1461.0,1338.7 1464.0,1338.8 1467.0,1338.9 1470.0,1339.0 1473.0,1339.1 1476.0,1339.2 1479.0,1339.3 1482.0,1339.4 1485.0,1339.4 1488.0,1339.5 1491.0,1339.5 1494.0,1339.6 1497.0,1339.6 1500.0,1339.7 1503.0,1339.7 1506.0,1339.7 1509.0,1339.7 1512.0,1339.7 1515.0,1339.8 1518.0,1339.8 1521.0,1339.8 1524.0,1339.8 1527.0,1339.8 1530.0,1339.8 1533.0,1339.8 1536.0,1339.8 1539.0,1339.7 1542.0,1339.7 1545.0,1339.7 1548.0,1339.7 1551.0,1339.7 1554.0,1339.7 1557.0,1339.7 1560.0,1339.6 1563.0,1339.6 1566.0,1339.6 1569.0,1339.6 1572.0,1339.6 1575.0,1339.5 1578.0,1339.5 1581.0,1339.5 1584.0,1339.5 1587.0,1339.4 1590.0,1339.4 1593.0,1339.4 1596.0,1339.4 1599.0,1339.3 1602.0,1339.3 1605.0,1339.3 1608.0,1339.2 1611.0,1339.2 1614.0,1339.1 1617.0,1339.1 1620.0,1339.0 1623.0,1339.0 1626.0,1338.9 1629.0,1338.9 1632.0,1338.8 1635.0,1338.8 1638.0,1338.7 1641.0,1338.6 1644.0,1338.6 1647.0,1338.5 1650.0,1338.5 1653.0,1338.4 1656.0,1338.3 1659.0,1338.2 1662.0,1338.2 1665.0,1338.1 1668.0,1338.0 1671.0,1338.0 1674.0,1337.9 1677.0,1337.8 1680.0,1337.7 1683.0,1337.7 1686.0,1337.6 1689.0,1337.5 1692.0,1337.5 1695.0,1337.4 1698.0,1337.3 1701.0,1337.2 1704.0,1337.2 1707.0,1337.1 1710.0,1337.0 1713.0,1337.0 1716.0,1336.9 1719.0,1336.8 1722.0,1336.8 1725.0,1336.7 1728.0,1336.6 1731.0,1336.6 1734.0,1336.5 1737.0,1336.4 1740.0,1336.4 1743.0,1336.3 1746.0,1336.3 1749.0,1336.2 1752.0,1336.1 1755.0,1336.1 1758.0,1336.0 1761.0,1336.0 1764.0,1335.9 1767.0,1335.9 1770.0,1335.8 1773.0,1335.7 1776.0,1335.7 1779.0,1335.6 1782.0,1335.5 1785.0,1335.5 1788.0,1335.4 1791.0,1335.3 1794.0,1335.2 1797.0,1335.1 1800.0,1335.1 1803.0,1335.0 1806.0,1334.9 1809.0,1334.8 1812.0,1334.7 1815.0,1334.6 1818.0,1334.5 1821.0,1334.4 1824.0,1334.3 1827.0,1334.2 1830.0,1334.1 1833.0,1334.0 1836.0,1333.8 1839.0,1333.7 1842.0,1333.6 1845.0,1333.5 1848.0,1333.4 1851.0,1333.2 1854.0,1333.1 1857.0,1333.0 1860.0,1332.9 1863.0,1332.7 1866.0,1332.6 1869.0,1332.5 1872.0,1332.4 1875.0,1332.2 1878.0,1332.1 1881.0,1332.0 1884.0,1331.8 1887.0,1331.7 1890.0,1331.6 1893.0,1331.4 1896.0,1331.3 1899.0,1331.1 1902.0,1331.0 1905.0,1330.9 1908.0,1330.7 1911.0,1330.6 1914.0,1330.4 1917.0,1330.3 1920.0,1330.1 1923.0,1330.0 1926.0,1329.9 1929.0,1329.7 1932.0,1329.6 1935.0,1329.4 1938.0,1329.3 1941.0,1329.1 1944.0,1329.0 1945.0,1328.9" stroke="#e3343f" stroke-width="3.9" stroke-dasharray="16 15.5"/>
<polyline points="318.0,29.1 321.0,34.1 324.0,39.1 327.0,44.1 330.0,49.2 333.0,54.2 336.0,59.2 339.0,64.2 342.0,69.2 345.0,74.2 348.0,79.2 351.0,84.3 354.0,89.3 357.0,94.3 360.0,99.3 363.0,104.3 366.0,109.3 369.0,114.4 372.0,119.4 375.0,124.4 378.0,129.4 381.0,134.4 384.0,139.4 387.0,144.5 390.0,149.5 393.0,154.5 396.0,159.5 399.0,164.5 402.0,169.5 405.0,174.5 408.0,179.6 411.0,184.6 414.0,189.6 417.0,194.6 420.0,199.6 423.0,204.6 426.0,209.6 429.0,214.7 432.0,219.7 435.0,224.7 438.0,229.7 441.0,234.7 444.0,239.7 447.0,244.7 450.0,249.7 453.0,254.8 456.0,259.8 459.0,264.8 462.0,269.8 465.0,274.8 468.0,279.8 471.0,284.8 474.0,289.8 477.0,294.8 480.0,299.9 483.0,304.9 486.0,309.9 489.0,314.9 492.0,319.9 495.0,324.9 498.0,329.9 501.0,334.9 504.0,339.9 507.0,344.9 510.0,350.0 513.0,355.0 516.0,360.0 519.0,365.0 522.0,370.0 525.0,375.0 528.0,380.0 531.0,385.0 534.0,390.0 537.0,395.0 540.0,400.0 543.0,405.0 546.0,410.0 549.0,415.0 552.0,420.0 555.0,425.0 558.0,430.0 561.0,435.0 564.0,440.0 567.0,445.0 570.0,450.0 573.0,455.0 576.0,460.0 579.0,465.0 582.0,470.0 585.0,475.0 588.0,480.0 591.0,485.0 594.0,490.0 597.0,495.0 600.0,500.0 603.0,505.0 606.0,510.0 609.0,515.0 612.0,520.0 615.0,525.0 618.0,530.0 621.0,535.0 624.0,539.9 627.0,544.9 630.0,549.9 633.0,554.9 636.0,559.9 639.0,564.9 642.0,569.9 645.0,574.8 648.0,579.8 651.0,584.8 654.0,589.8 657.0,594.7 660.0,599.7 663.0,604.7 666.0,609.7 669.0,614.6 672.0,619.6 675.0,624.6 678.0,629.5 681.0,634.5 684.0,639.5 687.0,644.4 690.0,649.4 693.0,654.3 696.0,659.3 699.0,664.3 702.0,669.2 705.0,674.2 708.0,679.1 711.0,684.1 714.0,689.1 717.0,694.0 720.0,699.0 723.0,704.0 726.0,709.0 729.0,714.1 732.0,719.1 735.0,724.2 738.0,729.4 741.0,734.6 744.0,739.8 747.0,745.0 750.0,750.3 753.0,755.6 756.0,761.0 759.0,766.3 762.0,771.6 765.0,776.8 768.0,782.1 771.0,787.3 774.0,792.4 777.0,797.5 780.0,802.5 783.0,807.5 786.0,812.5 789.0,817.4 792.0,822.2 795.0,827.0 798.0,831.8 801.0,836.6 804.0,841.4 807.0,846.1 810.0,850.8 813.0,855.5 816.0,860.1 819.0,864.8 822.0,869.5 825.0,874.1 828.0,878.7 831.0,883.4 834.0,888.0 837.0,892.7 840.0,897.3 843.0,901.9 846.0,906.6 849.0,911.2 852.0,915.8 855.0,920.5 858.0,925.1 861.0,929.8 864.0,934.4 867.0,939.1 870.0,943.7 873.0,948.4 876.0,953.1 879.0,957.7 882.0,962.4 885.0,967.0 888.0,971.7 891.0,976.4 894.0,981.0 897.0,985.7 900.0,990.3 903.0,994.9 906.0,999.5 909.0,1004.1 912.0,1008.6 915.0,1013.2 918.0,1017.7 921.0,1022.1 924.0,1026.6 927.0,1031.0 930.0,1035.4 933.0,1039.7 936.0,1044.0 939.0,1048.2 942.0,1052.4 945.0,1056.6 948.0,1060.7 951.0,1064.7 954.0,1068.7 957.0,1072.7 960.0,1076.6 963.0,1080.5 966.0,1084.4 969.0,1088.2 972.0,1091.9 975.0,1095.7 978.0,1099.4 981.0,1103.1 984.0,1106.8 987.0,1110.4 990.0,1114.1 993.0,1117.7 996.0,1121.4 999.0,1125.0 1002.0,1128.6 1005.0,1132.2 1008.0,1135.8 1011.0,1139.4 1014.0,1142.9 1017.0,1146.4 1020.0,1149.9 1023.0,1153.4 1026.0,1156.9 1029.0,1160.3 1032.0,1163.7 1035.0,1167.0 1038.0,1170.3 1041.0,1173.6 1044.0,1176.8 1047.0,1180.0 1050.0,1183.2 1053.0,1186.3 1056.0,1189.4 1059.0,1192.4 1062.0,1195.4 1065.0,1198.4 1068.0,1201.4 1071.0,1204.3 1074.0,1207.2 1077.0,1210.0 1080.0,1212.9 1083.0,1215.6 1086.0,1218.4 1089.0,1221.1 1092.0,1223.8 1095.0,1226.5 1098.0,1229.1 1101.0,1231.7 1104.0,1234.2 1107.0,1236.7 1110.0,1239.2 1113.0,1241.6 1116.0,1244.0 1119.0,1246.3 1122.0,1248.6 1125.0,1250.9 1128.0,1253.1 1131.0,1255.2 1134.0,1257.4 1137.0,1259.4 1140.0,1261.5 1143.0,1263.5 1146.0,1265.5 1149.0,1267.5 1152.0,1269.4 1155.0,1271.3 1158.0,1273.2 1161.0,1275.0 1164.0,1276.9 1167.0,1278.7 1170.0,1280.5 1173.0,1282.2 1176.0,1284.0 1179.0,1285.7 1182.0,1287.4 1185.0,1289.1 1188.0,1290.8 1191.0,1292.5 1194.0,1294.1 1197.0,1295.8 1200.0,1297.4 1203.0,1299.0 1206.0,1300.5 1209.0,1302.1 1212.0,1303.6 1215.0,1305.1 1218.0,1306.5 1221.0,1307.9 1224.0,1309.2 1227.0,1310.6 1230.0,1311.9 1233.0,1313.1 1236.0,1314.3 1239.0,1315.5 1242.0,1316.6 1245.0,1317.7 1248.0,1318.8 1251.0,1319.9 1254.0,1320.9 1257.0,1321.9 1260.0,1322.8 1263.0,1323.8 1266.0,1324.7 1269.0,1325.6 1272.0,1326.4 1275.0,1327.3 1278.0,1328.1 1281.0,1328.9 1284.0,1329.6 1287.0,1330.4 1290.0,1331.1 1293.0,1331.9 1296.0,1332.5 1299.0,1333.2 1302.0,1333.9 1305.0,1334.5 1308.0,1335.2 1311.0,1335.8 1314.0,1336.4 1317.0,1337.0 1320.0,1337.6 1323.0,1338.1 1326.0,1338.7 1329.0,1339.2 1332.0,1339.7 1335.0,1340.2 1338.0,1340.7 1341.0,1341.2 1344.0,1341.6 1347.0,1342.1 1350.0,1342.5 1353.0,1342.9 1356.0,1343.3 1359.0,1343.7 1362.0,1344.1 1365.0,1344.5 1368.0,1344.9 1371.0,1345.2 1374.0,1345.5 1377.0,1345.9 1380.0,1346.2 1383.0,1346.5 1386.0,1346.8 1389.0,1347.1 1392.0,1347.4 1395.0,1347.7 1398.0,1347.9 1401.0,1348.2 1404.0,1348.4 1407.0,1348.7 1410.0,1348.9 1413.0,1349.1 1416.0,1349.3 1419.0,1349.5 1422.0,1349.8 1425.0,1349.9 1428.0,1350.1 1431.0,1350.3 1434.0,1350.5 1437.0,1350.7 1440.0,1350.8 1443.0,1351.0 1446.0,1351.1 1449.0,1351.3 1452.0,1351.4 1455.0,1351.6 1458.0,1351.7 1461.0,1351.8 1464.0,1351.9 1467.0,1352.0 1470.0,1352.1 1473.0,1352.2 1476.0,1352.3 1479.0,1352.4 1482.0,1352.5 1485.0,1352.5 1488.0,1352.6 1491.0,1352.6 1494.0,1352.7 1497.0,1352.7 1500.0,1352.7 1503.0,1352.8 1506.0,1352.8 1509.0,1352.8 1512.0,1352.8 1515.0,1352.8 1518.0,1352.8 1521.0,1352.8 1524.0,1352.8 1527.0,1352.8 1530.0,1352.7 1533.0,1352.7 1536.0,1352.7 1539.0,1352.6 1542.0,1352.6 1545.0,1352.6 1548.0,1352.5 1551.0,1352.5 1554.0,1352.5 1557.0,1352.5 1560.0,1352.4 1563.0,1352.4 1566.0,1352.4 1569.0,1352.3 1572.0,1352.3 1575.0,1352.3 1578.0,1352.3 1581.0,1352.3 1584.0,1352.2 1587.0,1352.2 1590.0,1352.2 1593.0,1352.2 1596.0,1352.2 1599.0,1352.1 1602.0,1352.1 1605.0,1352.1 1608.0,1352.1 1611.0,1352.0 1614.0,1352.0 1617.0,1352.0 1620.0,1351.9 1623.0,1351.9 1626.0,1351.9 1629.0,1351.8 1632.0,1351.8 1635.0,1351.8 1638.0,1351.7 1641.0,1351.7 1644.0,1351.6 1647.0,1351.6 1650.0,1351.5 1653.0,1351.5 1656.0,1351.4 1659.0,1351.4 1662.0,1351.3 1665.0,1351.3 1668.0,1351.2 1671.0,1351.2 1674.0,1351.1 1677.0,1351.0 1680.0,1351.0 1683.0,1350.9 1686.0,1350.8 1689.0,1350.8 1692.0,1350.7 1695.0,1350.7 1698.0,1350.6 1701.0,1350.5 1704.0,1350.5 1707.0,1350.4 1710.0,1350.3 1713.0,1350.3 1716.0,1350.2 1719.0,1350.2 1722.0,1350.1 1725.0,1350.0 1728.0,1350.0 1731.0,1349.9 1734.0,1349.9 1737.0,1349.8 1740.0,1349.7 1743.0,1349.7 1746.0,1349.6 1749.0,1349.6 1752.0,1349.5 1755.0,1349.4 1758.0,1349.4 1761.0,1349.3 1764.0,1349.2 1767.0,1349.2 1770.0,1349.1 1773.0,1349.0 1776.0,1349.0 1779.0,1348.9 1782.0,1348.8 1785.0,1348.7 1788.0,1348.6 1791.0,1348.5 1794.0,1348.4 1797.0,1348.3 1800.0,1348.2 1803.0,1348.1 1806.0,1348.0 1809.0,1347.9 1812.0,1347.8 1815.0,1347.6 1818.0,1347.5 1821.0,1347.4 1824.0,1347.2 1827.0,1347.1 1830.0,1347.0 1833.0,1346.8 1836.0,1346.7 1839.0,1346.5 1842.0,1346.4 1845.0,1346.2 1848.0,1346.1 1851.0,1345.9 1854.0,1345.7 1857.0,1345.6 1860.0,1345.4 1863.0,1345.2 1866.0,1345.0 1869.0,1344.9 1872.0,1344.7 1875.0,1344.5 1878.0,1344.3 1881.0,1344.1 1884.0,1343.9 1887.0,1343.7 1890.0,1343.5 1893.0,1343.3 1896.0,1343.1 1899.0,1342.9 1902.0,1342.7 1905.0,1342.4 1908.0,1342.2 1911.0,1342.0 1914.0,1341.8 1917.0,1341.5 1920.0,1341.3 1923.0,1341.1 1926.0,1340.8 1929.0,1340.6 1932.0,1340.4 1935.0,1340.1 1938.0,1339.9 1941.0,1339.6 1944.0,1339.4 1945.0,1339.3" stroke="#222222" stroke-width="3.6"/>
</g>
<defs><linearGradient id="gl" x1="0" y1="0" x2="0" y2="1"><stop offset="0" stop-color="#b4b4b4"/><stop offset="0.3" stop-color="#b8b8b8"/><stop offset="1" stop-color="#ffffff"/></linearGradient></defs>
<rect x="194" y="49.3" width="1766" height="5.2" fill="url(#gl)"/>
<rect x="1958" y="54" width="3.3" height="1383" fill="#f3f3f3"/>
<g fill="#000">
<rect x="156" y="41.5" width="1811" height="6.3"/>
<rect x="186.2" y="41.5" width="6.4" height="1431.7"/>
<rect x="190" y="1438.8" width="1755" height="4.4"/>
<rect x="173.5" y="1437.1" width="22.5" height="6"/>
<rect x="1944.5" y="1437.25" width="19" height="4.3"/>
<rect x="1962.5" y="41.5" width="4.7" height="1400"/>
<rect x="1944" y="40.3" width="23" height="6"/>
<rect x="1961.3" y="1437.2" width="5.9" height="17.3"/>
</g>
<path d="M208.5,50.5 L214,54.5" stroke="#333" stroke-width="3"/>
<g fill="#000">
<rect x="157" y="331.0" width="32" height="6"/>
<rect x="157" y="811.9" width="32" height="6"/>
<rect x="157" y="1292.2" width="32" height="6"/>
<rect x="173" y="1398.8" width="16" height="6"/>
<rect x="173" y="1366.6" width="16" height="6"/>
<rect x="173" y="1338.7" width="16" height="6"/>
<rect x="173" y="1314.2" width="16" height="6"/>
<rect x="173" y="1147.6" width="16" height="6"/>
<rect x="173" y="1063.0" width="16" height="6"/>
<rect x="173" y="1003.0" width="16" height="6"/>
<rect x="173" y="956.5" width="16" height="6"/>
<rect x="173" y="918.5" width="16" height="6"/>
<rect x="173" y="886.3" width="16" height="6"/>
<rect x="173" y="858.4" width="16" height="6"/>
<rect x="173" y="833.9" width="16" height="6"/>
<rect x="173" y="667.1" width="16" height="6"/>
<rect x="173" y="582.5" width="16" height="6"/>
<rect x="173" y="522.4" width="16" height="6"/>
<rect x="173" y="475.8" width="16" height="6"/>
<rect x="173" y="437.7" width="16" height="6"/>
<rect x="173" y="405.5" width="16" height="6"/>
<rect x="173" y="377.6" width="16" height="6"/>
<rect x="173" y="353.0" width="16" height="6"/>
<rect x="173" y="186.2" width="16" height="6"/>
<rect x="173" y="101.5" width="16" height="6"/>
<rect x="482.3" y="1441" width="6.2" height="32.3"/>
<rect x="777.9" y="1441" width="6.2" height="32.3"/>
<rect x="1073.7" y="1441" width="6.2" height="32.3"/>
<rect x="1370.2" y="1441" width="6.2" height="32.3"/>
<rect x="1666.6" y="1441" width="6.2" height="32.3"/>
<rect x="393.0" y="1441" width="5.8" height="16.5"/>
<rect x="688.6" y="1441" width="5.8" height="16.5"/>
<rect x="985.1" y="1441" width="5.8" height="16.5"/>
<rect x="1281.1" y="1441" width="5.8" height="16.5"/>
<rect x="1577.1" y="1441" width="5.8" height="16.5"/>
<rect x="1873.6" y="1441" width="5.8" height="16.5"/>
<rect x="482.9" y="47" width="5" height="2.2"/>
<rect x="778.5" y="47" width="5" height="2.2"/>
<rect x="1074.3" y="47" width="5" height="2.2"/>
<rect x="1370.8" y="47" width="5" height="2.2"/>
<rect x="1667.2" y="47" width="5" height="2.2"/>
<rect x="393.4" y="47" width="5" height="2.2"/>
<rect x="689.0" y="47" width="5" height="2.2"/>
<rect x="985.5" y="47" width="5" height="2.2"/>
<rect x="1281.5" y="47" width="5" height="2.2"/>
<rect x="1577.5" y="47" width="5" height="2.2"/>
<rect x="1874.0" y="47" width="5" height="2.2"/>
</g>
<g transform="translate(14.50,366.70) scale(1,1.05)"><text font-size="85.5"><tspan dx="1.28">1</tspan><tspan dx="-1.28">0</tspan></text><rect x="6.41" y="-7.87" width="16.29" height="9.37" fill="#fff"/><rect x="30.31" y="-7.87" width="16.29" height="9.37" fill="#fff"/></g>
<g transform="translate(110.50,322.00) scale(1,1.05)"><text font-size="54">6</text></g>
<g transform="translate(14.50,847.90) scale(1,1.05)"><text font-size="85.5"><tspan dx="1.28">1</tspan><tspan dx="-1.28">0</tspan></text><rect x="6.41" y="-7.87" width="16.29" height="9.37" fill="#fff"/><rect x="30.31" y="-7.87" width="16.29" height="9.37" fill="#fff"/></g>
<g transform="translate(110.50,802.50) scale(1,1.05)"><text font-size="54">5</text></g>
<g transform="translate(14.50,1329.30) scale(1,1.05)"><text font-size="85.5"><tspan dx="1.28">1</tspan><tspan dx="-1.28">0</tspan></text><rect x="6.41" y="-7.87" width="16.29" height="9.37" fill="#fff"/><rect x="30.31" y="-7.87" width="16.29" height="9.37" fill="#fff"/></g>
<g transform="translate(109.00,1283.40) scale(1,1.05)"><text font-size="54">4</text></g>
<g transform="translate(120.70,1574.00) scale(1,1.05)"><text font-size="85.5"><tspan dx="1.28">1</tspan><tspan dx="-1.28">0</tspan></text><rect x="6.41" y="-7.87" width="16.29" height="9.37" fill="#fff"/><rect x="30.31" y="-7.87" width="16.29" height="9.37" fill="#fff"/></g>
<text transform="translate(214.80,1527.6) scale(1.1,0.8)" font-size="52.5">-</text>
<g transform="translate(232.28,1529.00) scale(1,1.08)"><text font-size="52.5">7</text></g>
<g transform="translate(416.90,1574.00) scale(1,1.05)"><text font-size="85.5"><tspan dx="1.28">1</tspan><tspan dx="-1.28">0</tspan></text><rect x="6.41" y="-7.87" width="16.29" height="9.37" fill="#fff"/><rect x="30.31" y="-7.87" width="16.29" height="9.37" fill="#fff"/></g>
<text transform="translate(511.00,1527.6) scale(1.1,0.8)" font-size="52.5">-</text>
<g transform="translate(528.48,1529.00) scale(1,1.08)"><text font-size="52.5">6</text></g>
<g transform="translate(712.50,1574.00) scale(1,1.05)"><text font-size="85.5"><tspan dx="1.28">1</tspan><tspan dx="-1.28">0</tspan></text><rect x="6.41" y="-7.87" width="16.29" height="9.37" fill="#fff"/><rect x="30.31" y="-7.87" width="16.29" height="9.37" fill="#fff"/></g>
<text transform="translate(806.60,1527.6) scale(1.1,0.8)" font-size="52.5">-</text>
<g transform="translate(824.08,1529.00) scale(1,1.08)"><text font-size="52.5">5</text></g>
<g transform="translate(1008.30,1574.00) scale(1,1.05)"><text font-size="85.5"><tspan dx="1.28">1</tspan><tspan dx="-1.28">0</tspan></text><rect x="6.41" y="-7.87" width="16.29" height="9.37" fill="#fff"/><rect x="30.31" y="-7.87" width="16.29" height="9.37" fill="#fff"/></g>
<text transform="translate(1102.40,1527.6) scale(1.1,0.8)" font-size="52.5">-</text>
<g transform="translate(1119.88,1529.00) scale(1,1.08)"><text font-size="52.5">4</text></g>
<g transform="translate(1304.80,1574.00) scale(1,1.05)"><text font-size="85.5"><tspan dx="1.28">1</tspan><tspan dx="-1.28">0</tspan></text><rect x="6.41" y="-7.87" width="16.29" height="9.37" fill="#fff"/><rect x="30.31" y="-7.87" width="16.29" height="9.37" fill="#fff"/></g>
<text transform="translate(1398.90,1527.6) scale(1.1,0.8)" font-size="52.5">-</text>
<g transform="translate(1416.38,1529.00) scale(1,1.08)"><text font-size="52.5">3</text></g>
<g transform="translate(1601.20,1574.00) scale(1,1.05)"><text font-size="85.5"><tspan dx="1.28">1</tspan><tspan dx="-1.28">0</tspan></text><rect x="6.41" y="-7.87" width="16.29" height="9.37" fill="#fff"/><rect x="30.31" y="-7.87" width="16.29" height="9.37" fill="#fff"/></g>
<text transform="translate(1695.30,1527.6) scale(1.1,0.8)" font-size="52.5">-</text>
<g transform="translate(1712.78,1529.00) scale(1,1.08)"><text font-size="52.5">2</text></g>
<g transform="translate(1913.00,1561.40) scale(1,1.0)"><text font-size="95" font-style="italic">x</text></g>
<g transform="translate(82.3,253.7) rotate(-90)"><text transform="scale(1,1.04)" font-size="90" font-style="italic">P</text></g>
<g transform="translate(112,196.5) rotate(-90)"><text transform="scale(1,1.05)" font-size="53">k</text></g>
<g transform="translate(82.3,168.5) rotate(-90)"><text transform="scale(1,1.08)" font-size="86">,</text></g>
<g transform="translate(82.3,118.5) rotate(-90)"><text transform="scale(1,1.095)" font-size="85">Pa</text></g>
<g transform="translate(1193.60,130.80) scale(1,1.0)"><text font-size="73.2" stroke="#000" stroke-width="0.7">frequency, kHz</text></g>
<line x1="1239" y1="189.6" x2="1381" y2="189.6" stroke="#222222" stroke-width="4.8"/>
<g transform="translate(1396.50,214.30) scale(1,1.075)"><text font-size="64.8" stroke="#000" stroke-width="1.1"><tspan dx="1.81">1</tspan></text><rect x="5.15" y="-6.51" width="12.34" height="8.01" fill="#fff"/><rect x="24.36" y="-6.51" width="12.34" height="8.01" fill="#fff"/></g>
<line x1="1239" y1="273.4" x2="1381" y2="273.4" stroke="#e3343f" stroke-width="5.5" stroke-dasharray="16 15.5"/>
<g transform="translate(1396.50,295.60) scale(1,1.075)"><text font-size="64.8" stroke="#000" stroke-width="1.1"><tspan dx="1.81">1</tspan><tspan dx="-1.81">.</tspan>6</text><rect x="5.15" y="-6.51" width="12.34" height="8.01" fill="#fff"/><rect x="24.36" y="-6.51" width="12.34" height="8.01" fill="#fff"/></g>
<line x1="1239" y1="356.8" x2="1381" y2="356.8" stroke="#303058" stroke-width="5.5" stroke-dasharray="0.5 18.6" stroke-linecap="round" stroke-dashoffset="-2.5"/>
<g transform="translate(1396.50,379.00) scale(1,1.075)"><text font-size="64.8" stroke="#000" stroke-width="1.1">2.6</text></g>
<line x1="1239" y1="440" x2="1381" y2="440" stroke="#1f7d73" stroke-width="6" stroke-dasharray="18.5 8.5 4 9"/>
<g transform="translate(1396.50,462.10) scale(1,1.075)"><text font-size="64.8" stroke="#000" stroke-width="1.1">4.<tspan dx="1.81">1</tspan></text><rect x="59.20" y="-6.51" width="12.34" height="8.01" fill="#fff"/><rect x="78.41" y="-6.51" width="12.34" height="8.01" fill="#fff"/></g>
<line x1="1239" y1="523.3" x2="1381" y2="523.3" stroke="#bc48b2" stroke-width="4.6" stroke-dasharray="16 6.5 5.5 7.3 5.5 7.2" stroke-dashoffset="1"/>
<g transform="translate(1396.50,546.00) scale(1,1.075)"><text font-size="64.8" stroke="#000" stroke-width="1.1">6.5</text></g>
<line x1="1239" y1="605.2" x2="1381" y2="605.2" stroke="#70744a" stroke-width="4.5" stroke-dasharray="7.3 7.3"/>
<g transform="translate(1396.50,629.80) scale(1,1.075)"><text font-size="64.8" stroke="#000" stroke-width="1.1"><tspan dx="1.81">1</tspan><tspan dx="-1.81">0</tspan>.5</text><rect x="5.15" y="-6.51" width="12.34" height="8.01" fill="#fff"/><rect x="24.36" y="-6.51" width="12.34" height="8.01" fill="#fff"/></g>
<line x1="1239" y1="690" x2="1381" y2="690" stroke="#40408e" stroke-width="3.8" stroke-dasharray="6 2.5 3 2.5"/>
<g transform="translate(1396.50,712.90) scale(1,1.075)"><text font-size="64.8" stroke="#000" stroke-width="1.1"><tspan dx="1.81">1</tspan><tspan dx="-1.81">6</tspan>.8</text><rect x="5.15" y="-6.51" width="12.34" height="8.01" fill="#fff"/><rect x="24.36" y="-6.51" width="12.34" height="8.01" fill="#fff"/></g>
<line x1="1239" y1="771.4" x2="1381" y2="771.4" stroke="#6c1e2a" stroke-width="5" stroke-dasharray="11.3 4.5 2.6 7.4"/>
<g transform="translate(1396.50,796.00) scale(1,1.075)"><text font-size="64.8" stroke="#000" stroke-width="1.1">26.8</text></g>
<line x1="1239" y1="855.3" x2="1381" y2="855.3" stroke="#d2487f" stroke-width="5.5"/>
<g transform="translate(1396.50,877.90) scale(1,1.075)"><text font-size="64.8" stroke="#000" stroke-width="1.1">43.0</text></g>
<line x1="1239" y1="938.5" x2="1381" y2="938.5" stroke="#2a6e4a" stroke-width="5.5" stroke-dasharray="15 17"/>
<g transform="translate(1396.50,961.80) scale(1,1.075)"><text font-size="64.8" stroke="#000" stroke-width="1.1">68.7</text></g>
</svg></body></html>
